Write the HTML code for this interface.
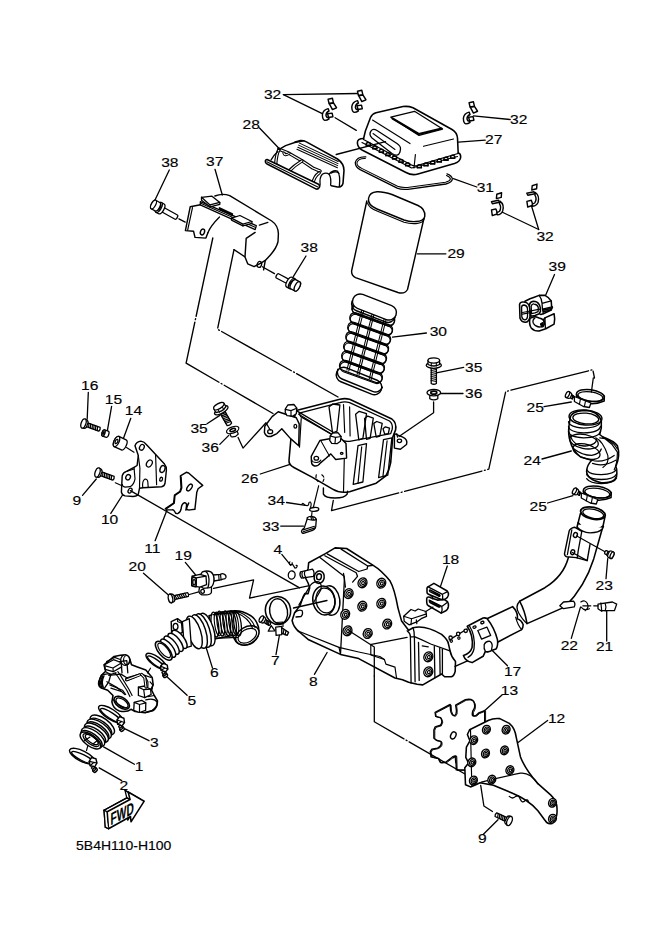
<!DOCTYPE html>
<html><head><meta charset="utf-8"><style>
html,body{margin:0;padding:0;background:#fff;}
svg{display:block;}
text{font-family:"Liberation Sans",sans-serif;fill:#000;stroke:#000;stroke-width:0.15px;}
</style></head><body>
<svg width="661" height="935" viewBox="0 0 661 935" stroke-linecap="round" stroke-linejoin="round">
<rect width="661" height="935" fill="#fff"/>
<text transform="translate(263.9,99.4) scale(1.2,1)" font-size="13">32</text>
<text transform="translate(510.1,123.8) scale(1.2,1)" font-size="13">32</text>
<text transform="translate(485.1,144.2) scale(1.2,1)" font-size="13">27</text>
<text transform="translate(242.5,128.7) scale(1.2,1)" font-size="13">28</text>
<text transform="translate(476.7,192.4) scale(1.2,1)" font-size="13">31</text>
<text transform="translate(536.4,241.2) scale(1.2,1)" font-size="13">32</text>
<text transform="translate(548.5,270.6) scale(1.2,1)" font-size="13">39</text>
<text transform="translate(161.2,167.4) scale(1.2,1)" font-size="13">38</text>
<text transform="translate(206.1,166.4) scale(1.2,1)" font-size="13">37</text>
<text transform="translate(447.4,258.4) scale(1.2,1)" font-size="13">29</text>
<text transform="translate(300.6,252.4) scale(1.2,1)" font-size="13">38</text>
<text transform="translate(429.7,335.7) scale(1.2,1)" font-size="13">30</text>
<text transform="translate(465.0,371.7) scale(1.2,1)" font-size="13">35</text>
<text transform="translate(465.0,398.0) scale(1.2,1)" font-size="13">36</text>
<text transform="translate(81.1,390.3) scale(1.2,1)" font-size="13">16</text>
<text transform="translate(104.8,404.2) scale(1.2,1)" font-size="13">15</text>
<text transform="translate(124.8,415.4) scale(1.2,1)" font-size="13">14</text>
<text transform="translate(190.4,432.8) scale(1.2,1)" font-size="13">35</text>
<text transform="translate(201.6,452.0) scale(1.2,1)" font-size="13">36</text>
<text transform="translate(526.6,411.7) scale(1.2,1)" font-size="13">25</text>
<text transform="translate(523.5,465.4) scale(1.2,1)" font-size="13">24</text>
<text transform="translate(241.0,483.4) scale(1.2,1)" font-size="13">26</text>
<text transform="translate(72.6,504.8) scale(1.2,1)" font-size="13">9</text>
<text transform="translate(267.6,504.6) scale(1.2,1)" font-size="13">34</text>
<text transform="translate(529.5,511.0) scale(1.2,1)" font-size="13">25</text>
<text transform="translate(100.9,523.7) scale(1.2,1)" font-size="13">10</text>
<text transform="translate(262.2,530.5) scale(1.2,1)" font-size="13">33</text>
<text transform="translate(144.2,553.1) scale(1.2,1)" font-size="13">11</text>
<text transform="translate(273.6,554.1) scale(1.2,1)" font-size="13">4</text>
<text transform="translate(441.9,563.5) scale(1.2,1)" font-size="13">18</text>
<text transform="translate(174.6,560.2) scale(1.2,1)" font-size="13">19</text>
<text transform="translate(128.5,570.5) scale(1.2,1)" font-size="13">20</text>
<text transform="translate(595.5,589.8) scale(1.2,1)" font-size="13">23</text>
<text transform="translate(560.7,649.9) scale(1.2,1)" font-size="13">22</text>
<text transform="translate(595.9,651.4) scale(1.2,1)" font-size="13">21</text>
<text transform="translate(270.9,664.6) scale(1.2,1)" font-size="13">7</text>
<text transform="translate(209.9,677.2) scale(1.2,1)" font-size="13">6</text>
<text transform="translate(503.9,675.7) scale(1.2,1)" font-size="13">17</text>
<text transform="translate(308.9,685.6) scale(1.2,1)" font-size="13">8</text>
<text transform="translate(500.8,695.4) scale(1.2,1)" font-size="13">13</text>
<text transform="translate(187.4,705.2) scale(1.2,1)" font-size="13">5</text>
<text transform="translate(547.9,723.0) scale(1.2,1)" font-size="13">12</text>
<text transform="translate(149.9,746.9) scale(1.2,1)" font-size="13">3</text>
<text transform="translate(134.8,771.2) scale(1.2,1)" font-size="13">1</text>
<text transform="translate(119.6,790.0) scale(1.2,1)" font-size="13">2</text>
<text transform="translate(477.9,843.1) scale(1.2,1)" font-size="13">9</text>
<text transform="translate(76.1,850.0) scale(1.165,1)" font-size="12">5B4H110-H100</text>
<path d="M363.6,138.5 L365.4,131 L370.5,117.5 Q372,114 376,112.8 L403,106.6 Q408,105.8 413,107.8 L452,129.5 Q457,132.5 457.5,138 L458.2,153" fill="none" stroke="#000" stroke-width="1.56" />
<path d="M363.6,138.5 Q357,138.5 357.4,143 Q357.6,147.5 362,150 L406,172.5 Q412,175.8 418,174 L454.5,163.5 Q460.5,161.5 460.7,157 Q460.8,153.5 458.2,153" fill="none" stroke="#000" stroke-width="1.56" />
<path d="M362,142.5 L411.6,168 L457.5,156.5" fill="none" stroke="#000" stroke-width="1.17" />
<path d="M366.2,145.5 L366.3,143.4 Q368.3,141.6 370.3,143.4 L370.4,145.5" fill="#fff" stroke="#000" stroke-width="1.43"/>
<path d="M366.7,145.3 L369.9,145.3" stroke="#000" stroke-width="1.82"/>
<path d="M372.8,148.9 L372.9,146.8 Q374.9,145.0 376.9,146.8 L377.0,148.9" fill="#fff" stroke="#000" stroke-width="1.43"/>
<path d="M373.3,148.7 L376.5,148.7" stroke="#000" stroke-width="1.82"/>
<path d="M379.3,152.3 L379.4,150.2 Q381.4,148.4 383.4,150.2 L383.5,152.3" fill="#fff" stroke="#000" stroke-width="1.43"/>
<path d="M379.8,152.1 L383.0,152.1" stroke="#000" stroke-width="1.82"/>
<path d="M385.9,155.7 L386.0,153.5 Q388.0,151.8 390.0,153.5 L390.1,155.7" fill="#fff" stroke="#000" stroke-width="1.43"/>
<path d="M386.4,155.4 L389.6,155.4" stroke="#000" stroke-width="1.82"/>
<path d="M392.5,159.0 L392.6,156.9 Q394.6,155.1 396.6,156.9 L396.7,159.0" fill="#fff" stroke="#000" stroke-width="1.43"/>
<path d="M393.0,158.8 L396.2,158.8" stroke="#000" stroke-width="1.82"/>
<path d="M399.0,162.4 L399.1,160.3 Q401.1,158.5 403.1,160.3 L403.2,162.4" fill="#fff" stroke="#000" stroke-width="1.43"/>
<path d="M399.5,162.2 L402.7,162.2" stroke="#000" stroke-width="1.82"/>
<path d="M405.6,165.8 L405.7,163.7 Q407.7,161.9 409.7,163.7 L409.8,165.8" fill="#fff" stroke="#000" stroke-width="1.43"/>
<path d="M406.1,165.6 L409.3,165.6" stroke="#000" stroke-width="1.82"/>
<path d="M417.2,167.8 L417.3,165.7 Q419.3,163.9 421.3,165.7 L421.4,167.8" fill="#fff" stroke="#000" stroke-width="1.43"/>
<path d="M417.7,167.6 L420.9,167.6" stroke="#000" stroke-width="1.82"/>
<path d="M423.9,165.9 L424.0,163.8 Q426.0,162.0 428.0,163.8 L428.1,165.9" fill="#fff" stroke="#000" stroke-width="1.43"/>
<path d="M424.4,165.7 L427.6,165.7" stroke="#000" stroke-width="1.82"/>
<path d="M430.6,164.0 L430.7,161.9 Q432.7,160.1 434.7,161.9 L434.8,164.0" fill="#fff" stroke="#000" stroke-width="1.43"/>
<path d="M431.1,163.8 L434.3,163.8" stroke="#000" stroke-width="1.82"/>
<path d="M437.2,162.1 L437.3,160.0 Q439.3,158.2 441.3,160.0 L441.4,162.1" fill="#fff" stroke="#000" stroke-width="1.43"/>
<path d="M437.7,161.9 L440.9,161.9" stroke="#000" stroke-width="1.82"/>
<path d="M443.9,160.2 L444.0,158.1 Q446.0,156.3 448.0,158.1 L448.1,160.2" fill="#fff" stroke="#000" stroke-width="1.43"/>
<path d="M444.4,160.0 L447.6,160.0" stroke="#000" stroke-width="1.82"/>
<path d="M450.6,158.3 L450.7,156.2 Q452.7,154.4 454.7,156.2 L454.8,158.3" fill="#fff" stroke="#000" stroke-width="1.43"/>
<path d="M451.1,158.1 L454.3,158.1" stroke="#000" stroke-width="1.82"/>
<path d="M363.5,139.5 L411.5,165 Q414,166.3 417,165.6 L458,153.5" fill="none" stroke="#000" stroke-width="1.30" />
<path d="M372.5,120 L410,143.6" fill="none" stroke="#000" stroke-width="1.17" />
<path d="M423.5,146.3 L453.5,139" fill="none" stroke="#000" stroke-width="1.17" />
<path d="M415.4,154.5 L414,168" fill="none" stroke="#000" stroke-width="1.17" />
<path d="M390.8,117.2 L414.5,111.3 L442.6,129 L419,135.4 Z" fill="none" stroke="#000" stroke-width="1.30" />
<path d="M392.5,118.5 L418.8,134 L441.5,128.6" fill="none" stroke="#000" stroke-width="2.08" />
<path d="M371,131 Q368.5,134.5 372,138 L392,153.5 Q398,157.5 400,152 L400.5,149 Q400.8,146 397,143.5 L377,130.5 Q373,128 371,131 Z" fill="none" stroke="#000" stroke-width="1.30" />
<path d="M373,133.5 L395,149.5" fill="none" stroke="#000" stroke-width="1.04" />
<path d="M365.8,156.9 Q356.9,156.4 355.3,162.4 Q355.3,167.0 360.1,169.6 L397.2,188.2 Q401.4,189.9 407.8,189.3 L445.9,184.0 Q452.3,182.3 452.3,178.7 Q451.8,175.5 447.0,173.8" fill="none" stroke="#000" stroke-width="1.30" />
<path d="M365.4,158.5 Q358.2,158.1 356.9,162.8 Q356.9,166.2 361.2,168.1 L397.6,186.3 Q401.4,187.8 407.4,187.4 L445.5,182.3 Q450.1,181.0 450.4,178.9 Q450.1,177.0 446.5,175.5" fill="none" stroke="#000" stroke-width="1.04" />
<path d="M366.8,201 L351.7,270.5 Q351,275 355.5,277.6 L398,292.5 Q404.5,294.5 407.5,289.5 L423.8,219" fill="none" stroke="#000" stroke-width="1.43" />
<path d="M368.5,198.5 Q369.5,192.3 377,191.8 Q383,191.5 392,194.5 L418,205.5 Q425.5,209 424.8,216.3 Q424,221 416,221.5 Q410,222 404,220 L377,209 Q367.5,205 368.5,198.5 Z" fill="none" stroke="#000" stroke-width="1.43" />
<path d="M367.5,202.8 Q368.5,207.5 377,211 L404,222.2 Q410,224 416,223.6 Q423.5,223 424.2,218.5" fill="none" stroke="#000" stroke-width="1.17" />
<line x1="283.4" y1="94.6" x2="358.1" y2="93.5" stroke="#000" stroke-width="1.30"/>
<line x1="283.4" y1="94.6" x2="321.8" y2="113.4" stroke="#000" stroke-width="1.30"/>
<line x1="473.4" y1="115.8" x2="510.2" y2="119.5" stroke="#000" stroke-width="1.30"/>
<line x1="458.4" y1="142.2" x2="485.2" y2="140.2" stroke="#000" stroke-width="1.30"/>
<line x1="453.4" y1="178.7" x2="476.8" y2="187" stroke="#000" stroke-width="1.30"/>
<line x1="501.9" y1="212" x2="538.7" y2="229.5" stroke="#000" stroke-width="1.30"/>
<line x1="530.3" y1="202" x2="538.7" y2="229.5" stroke="#000" stroke-width="1.30"/>
<line x1="259.5" y1="128" x2="278.4" y2="147.7" stroke="#000" stroke-width="1.30"/>
<line x1="169.3" y1="170" x2="155" y2="200" stroke="#000" stroke-width="1.30"/>
<line x1="215" y1="169.3" x2="222.3" y2="195" stroke="#000" stroke-width="1.30"/>
<line x1="306" y1="256" x2="293.3" y2="276.7" stroke="#000" stroke-width="1.30"/>
<line x1="417.3" y1="253.8" x2="445.9" y2="253.8" stroke="#000" stroke-width="1.30"/>
<line x1="392.5" y1="337.2" x2="426.4" y2="333" stroke="#000" stroke-width="1.30"/>
<line x1="436.4" y1="372.8" x2="463.7" y2="367.3" stroke="#000" stroke-width="1.30"/>
<line x1="440" y1="393.5" x2="463" y2="393.5" stroke="#000" stroke-width="1.30"/>
<line x1="88.3" y1="392.5" x2="87.2" y2="419" stroke="#000" stroke-width="1.30"/>
<line x1="111.6" y1="406.3" x2="107.2" y2="431.7" stroke="#000" stroke-width="1.30"/>
<line x1="130.8" y1="418.3" x2="123.5" y2="438.3" stroke="#000" stroke-width="1.30"/>
<line x1="207" y1="423.7" x2="219.8" y2="415.4" stroke="#000" stroke-width="1.30"/>
<line x1="219.8" y1="444.4" x2="228.8" y2="435.4" stroke="#000" stroke-width="1.30"/>
<line x1="544" y1="406.7" x2="571.3" y2="402" stroke="#000" stroke-width="1.30"/>
<line x1="542" y1="459" x2="571.3" y2="451" stroke="#000" stroke-width="1.30"/>
<line x1="260.3" y1="474" x2="290" y2="464.3" stroke="#000" stroke-width="1.30"/>
<line x1="82.5" y1="495.3" x2="96.3" y2="479" stroke="#000" stroke-width="1.30"/>
<line x1="286.5" y1="502.5" x2="305.4" y2="505.4" stroke="#000" stroke-width="1.30"/>
<line x1="547.6" y1="503" x2="573" y2="495.6" stroke="#000" stroke-width="1.30"/>
<line x1="110.8" y1="513.4" x2="123.5" y2="493.5" stroke="#000" stroke-width="1.30"/>
<line x1="280.7" y1="526.1" x2="303.5" y2="526.1" stroke="#000" stroke-width="1.30"/>
<line x1="155.1" y1="540.7" x2="167.1" y2="509.8" stroke="#000" stroke-width="1.30"/>
<line x1="281.8" y1="554.4" x2="290.8" y2="565.3" stroke="#000" stroke-width="1.30"/>
<line x1="447.3" y1="566" x2="440" y2="587.9" stroke="#000" stroke-width="1.30"/>
<line x1="185.3" y1="562.4" x2="197.3" y2="577" stroke="#000" stroke-width="1.30"/>
<line x1="143.5" y1="573.3" x2="170.7" y2="597" stroke="#000" stroke-width="1.30"/>
<line x1="606" y1="578.7" x2="607.7" y2="558.7" stroke="#000" stroke-width="1.30"/>
<line x1="571.3" y1="638.4" x2="580.4" y2="607.4" stroke="#000" stroke-width="1.30"/>
<line x1="606.7" y1="641" x2="606.7" y2="609.2" stroke="#000" stroke-width="1.30"/>
<line x1="507.5" y1="665.7" x2="489.3" y2="647.5" stroke="#000" stroke-width="1.30"/>
<line x1="502" y1="694.9" x2="482" y2="713.1" stroke="#000" stroke-width="1.30"/>
<line x1="547.6" y1="720.4" x2="518.4" y2="742.3" stroke="#000" stroke-width="1.30"/>
<line x1="212.5" y1="668.1" x2="205.2" y2="644.5" stroke="#000" stroke-width="1.30"/>
<line x1="276" y1="654.6" x2="279.7" y2="633.6" stroke="#000" stroke-width="1.30"/>
<line x1="187.1" y1="695.3" x2="165.3" y2="675.3" stroke="#000" stroke-width="1.30"/>
<line x1="149" y1="740.7" x2="124.6" y2="728.7" stroke="#000" stroke-width="1.30"/>
<line x1="134.4" y1="764.3" x2="103.6" y2="746.9" stroke="#000" stroke-width="1.30"/>
<line x1="121.7" y1="780.6" x2="99.2" y2="767.9" stroke="#000" stroke-width="1.30"/>
<line x1="314.4" y1="674.3" x2="327.1" y2="652.5" stroke="#000" stroke-width="1.30"/>
<line x1="483.4" y1="834.3" x2="498" y2="819.8" stroke="#000" stroke-width="1.30"/>
<line x1="554.5" y1="274.5" x2="545.5" y2="295.5" stroke="#000" stroke-width="1.30"/>
<path d="M269.4,161.3 Q273.2,152.2 279.2,149.2 L286.8,145.9 L295.1,141.9 L300.4,140.6 Q303.4,140.4 306.4,141.9 L337.5,159.0 Q344.0,163.6 344.0,170.4 L343.0,183.2 Q342.0,187.3 337.5,187.0 L318.5,187.0 L269.4,162.8 Z" fill="#fff" stroke="none"/>
<path d="M299.5,143.1 L338.2,161.5" fill="none" stroke="#000" stroke-width="1.04" />
<path d="M298.6,145.1 L338.0,163.6" fill="none" stroke="#000" stroke-width="1.04" />
<path d="M297.8,147.2 L337.7,165.6" fill="none" stroke="#000" stroke-width="1.04" />
<path d="M296.9,149.2 L337.4,167.7" fill="none" stroke="#000" stroke-width="1.04" />
<path d="M295.1,141.9 L300.4,140.6 Q303.4,140.4 306.4,141.9 L337.5,159.0 Q344.0,163.6 344.0,170.4 L343.0,183.2 Q342.0,187.3 337.5,187.0 L331.4,185.8" fill="none" stroke="#000" stroke-width="1.56" />
<path d="M279.2,149.3 L289.2,153.4 L301.9,160.7 L312.8,168.0 L320.1,171.1" fill="none" stroke="#000" stroke-width="3.38" stroke-linecap="round" stroke-linejoin="round"/>
<path d="M279.2,149.3 L289.2,153.4 L301.9,160.7 L312.8,168.0 L320.1,171.1" fill="none" stroke="#fff" stroke-width="1.17" stroke-linecap="round" stroke-linejoin="round"/>
<path d="M275.6,164.5 L288.3,171.8 L312.8,183.8" fill="none" stroke="#000" stroke-width="3.38" stroke-linecap="round" stroke-linejoin="round"/>
<path d="M275.6,164.5 L288.3,171.8 L312.8,183.8" fill="none" stroke="#fff" stroke-width="1.17" stroke-linecap="round" stroke-linejoin="round"/>
<path d="M279.2,149.3 Q276.5,153.4 275.6,164.5" fill="none" stroke="#000" stroke-width="3.38" stroke-linecap="round" stroke-linejoin="round"/>
<path d="M279.2,149.3 Q276.5,153.4 275.6,164.5" fill="none" stroke="#fff" stroke-width="1.17" stroke-linecap="round" stroke-linejoin="round"/>
<path d="M301.9,160.9 Q294.7,165.2 288.3,171.8" fill="none" stroke="#000" stroke-width="3.38" stroke-linecap="round" stroke-linejoin="round"/>
<path d="M301.9,160.9 Q294.7,165.2 288.3,171.8" fill="none" stroke="#fff" stroke-width="1.17" stroke-linecap="round" stroke-linejoin="round"/>
<path d="M289.2,153.4 Q284.7,156.2 283.8,153.0" fill="none" stroke="#000" stroke-width="2.86" stroke-linecap="round" stroke-linejoin="round"/>
<path d="M289.2,153.4 Q284.7,156.2 283.8,153.0" fill="none" stroke="#fff" stroke-width="1.04" stroke-linecap="round" stroke-linejoin="round"/>
<path d="M319.2,172.9 Q314.2,176.1 312.8,183.8" fill="none" stroke="#000" stroke-width="3.38" stroke-linecap="round" stroke-linejoin="round"/>
<path d="M319.2,172.9 Q314.2,176.1 312.8,183.8" fill="none" stroke="#fff" stroke-width="1.17" stroke-linecap="round" stroke-linejoin="round"/>
<path d="M279.2,149.3 L285.6,145.7 L294.7,142.5 L303.8,140.7" fill="none" stroke="#000" stroke-width="1.43" />
<path d="M277.9,148.2 Q278.3,149.8 279.2,149.3 M271.1,159.8 Q273.8,155.2 277.9,151.6" fill="none" stroke="#000" stroke-width="1.30" />
<path d="M320.1,184.8 Q319.3,177.2 322.3,174.2 Q326.1,171.9 329.1,174.2 Q331.4,178.0 330.6,185.2" fill="none" stroke="#000" stroke-width="1.30" />
<path d="M329.1,174.2 Q332.9,169.6 337.5,171.1 Q340.5,174.9 339.4,185.8" fill="none" stroke="#000" stroke-width="1.30" />
<path d="M331.4,173.1 Q335.9,170.4 339.0,173.4" fill="none" stroke="#000" stroke-width="1.17" />
<path d="M267.1,159.5 L318.5,184.3 Q320.4,185.5 319.3,187.3 Q318.2,189.4 316.3,189.1 L267.1,164.0 Q265.0,162.8 265.3,161.0 Q265.9,159.2 267.1,159.5 Z" fill="#fff" stroke="#000" stroke-width="1.56" />
<path d="M266.8,161.8 L317.8,187.0" fill="none" stroke="#000" stroke-width="1.04" />
<g transform="translate(328,99) scale(1.0,1.0)" fill="#fff" stroke="#000" stroke-width="1.43" stroke-linejoin="round"><path d="M0.1,0.3 L4.45,-0.7 L5.4,3.7 L1.05,4.5 Z"/><path d="M1.4,4.8 L5.65,4.15 L8.55,8.75 L4.45,10.6 Z"/><path d="M0.1,9.6 Q-5,10.8 -5.6,15.7 Q-5.6,20.5 -3.2,21.35 Q-0.75,21.35 1.05,19.9 L0.45,18.45 Q-1.6,18.9 -2,16.3 Q-2,13.25 1.05,12 Z"/><path d="M-0.4,14.8 L4.1,14.1 L4.9,17.7 L0.6,18.45 Z"/></g>
<g transform="translate(357.4,91) scale(1.0,1.0)" fill="#fff" stroke="#000" stroke-width="1.43" stroke-linejoin="round"><path d="M0.1,0.3 L4.45,-0.7 L5.4,3.7 L1.05,4.5 Z"/><path d="M1.4,4.8 L5.65,4.15 L8.55,8.75 L4.45,10.6 Z"/><path d="M0.1,9.6 Q-5,10.8 -5.6,15.7 Q-5.6,20.5 -3.2,21.35 Q-0.75,21.35 1.05,19.9 L0.45,18.45 Q-1.6,18.9 -2,16.3 Q-2,13.25 1.05,12 Z"/><path d="M-0.4,14.8 L4.1,14.1 L4.9,17.7 L0.6,18.45 Z"/></g>
<g transform="translate(469,102.5) scale(1.0,1.0)" fill="#fff" stroke="#000" stroke-width="1.43" stroke-linejoin="round"><path d="M0.1,0.3 L4.45,-0.7 L5.4,3.7 L1.05,4.5 Z"/><path d="M1.4,4.8 L5.65,4.15 L8.55,8.75 L4.45,10.6 Z"/><path d="M0.1,9.6 Q-5,10.8 -5.6,15.7 Q-5.6,20.5 -3.2,21.35 Q-0.75,21.35 1.05,19.9 L0.45,18.45 Q-1.6,18.9 -2,16.3 Q-2,13.25 1.05,12 Z"/><path d="M-0.4,14.8 L4.1,14.1 L4.9,17.7 L0.6,18.45 Z"/></g>
<g fill="#fff" stroke="#000" stroke-width="1.43" stroke-linejoin="round">
<path d="M496.8,194.3 L501.6,192.7 L501.2,197.4 L496.4,198.6 Z"/>
<path d="M491.5,210.0 L495.9,208.9 L497.7,213.8 L492.3,215.6 Z"/>
<path d="M500.0,201.1 Q504.5,204.5 502.7,210.9 Q501.3,214.5 497.3,214.9 L496.8,212.7 Q498.6,212.0 499.5,211.3 Q501.8,207.2 499.5,203.8 Z"/>
<path d="M491.4,201.8 L498.6,200.3 L499.5,202.3 L492.4,203.8 Z"/>
</g>
<g fill="#fff" stroke="#000" stroke-width="1.43" stroke-linejoin="round">
<path d="M532.2,185.7 L537.0,184.1 L536.6,188.8 L531.8,190.0 Z"/>
<path d="M526.9,201.4 L531.3,200.3 L533.1,205.2 L527.7,207.0 Z"/>
<path d="M535.4,192.5 Q539.9,195.9 538.1,202.3 Q536.7,205.9 532.7,206.3 L532.2,204.1 Q534.0,203.4 534.9,202.7 Q537.2,198.6 534.9,195.2 Z"/>
<path d="M526.8,193.2 L534.0,191.7 L534.9,193.7 L527.8,195.2 Z"/>
</g>
<line x1="336.2" y1="154.5" x2="385.5" y2="141.7" stroke="#000" stroke-width="1.30"/>
<line x1="335.1" y1="117.7" x2="356.3" y2="130.4" stroke="#000" stroke-width="1.30"/>
<g transform="translate(297.3,286.4) rotate(208)" fill="#fff" stroke="#000" stroke-width="1.30" stroke-linejoin="round"><path d="M9,-2.4 L22.5,-2.4 A1.08,2.4 0 0 1 22.5,2.4 L9,2.4 A1.08,2.4 0 0 1 9,-2.4 Z"/><ellipse cx="9" cy="0" rx="1.08" ry="2.4"/><path d="M6,-5.6 L9,-5.6 A2.52,5.6 0 0 1 9,5.6 L6,5.6 A2.52,5.6 0 0 1 6,-5.6 Z"/><ellipse cx="6" cy="0" rx="2.52" ry="5.6"/><path d="M4.5,-3.2 L6,-3.2 A1.44,3.2 0 0 1 6,3.2 L4.5,3.2 A1.44,3.2 0 0 1 4.5,-3.2 Z"/><ellipse cx="4.5" cy="0" rx="1.44" ry="3.2"/><path d="M0,-5.2 L4.5,-5.2 A2.34,5.2 0 0 1 4.5,5.2 L0,5.2 A2.34,5.2 0 0 1 0,-5.2 Z"/><ellipse cx="0" cy="0" rx="2.34" ry="5.2"/></g>
<line x1="262.3" y1="266.8" x2="274.5" y2="273.6" stroke="#000" stroke-width="1.30"/>
<g transform="translate(153.5,204.5) rotate(29)" fill="#fff" stroke="#000" stroke-width="1.30" stroke-linejoin="round"><path d="M9,-2.4 L26,-2.4 A1.08,2.4 0 0 1 26,2.4 L9,2.4 A1.08,2.4 0 0 1 9,-2.4 Z"/><ellipse cx="9" cy="0" rx="1.08" ry="2.4"/><path d="M6,-5.6 L9,-5.6 A2.52,5.6 0 0 1 9,5.6 L6,5.6 A2.52,5.6 0 0 1 6,-5.6 Z"/><ellipse cx="6" cy="0" rx="2.52" ry="5.6"/><path d="M4.5,-3.2 L6,-3.2 A1.44,3.2 0 0 1 6,3.2 L4.5,3.2 A1.44,3.2 0 0 1 4.5,-3.2 Z"/><ellipse cx="4.5" cy="0" rx="1.44" ry="3.2"/><path d="M0,-4.8 L4.5,-4.8 A2.16,4.8 0 0 1 4.5,4.8 L0,4.8 A2.16,4.8 0 0 1 0,-4.8 Z"/><ellipse cx="0" cy="0" rx="2.16" ry="4.8"/></g>
<line x1="178.9" y1="218.9" x2="185.2" y2="222.1" stroke="#000" stroke-width="1.30"/>
<path d="M214.9,196.0 Q222.3,193.0 229.7,195.6 L271.7,221.0 Q278.0,225.2 278.4,233.7 L278.0,241.8 Q276.3,248.5 270.4,254.9 L265.3,260.4 L263.6,269.9" fill="none" stroke="#000" stroke-width="1.43" />
<path d="M200.4,201.6 L256.3,225.6 L255.2,229.7 L200.2,204.9 Z" fill="#fff" stroke="#000" stroke-width="1.30" />
<path d="M200.7,203.2 L255.7,227.5" fill="none" stroke="#000" stroke-width="1.04" />
<path d="M219.5,207.9 L232.4,213.9 M219.8,209.2 L232.2,215.2" fill="none" stroke="#000" stroke-width="1.69" />
<path d="M201.5,197.3 L212.0,196.2 L219.8,202.4 L219.8,204.3 L210.0,206.8 L201.5,200.3 Z" fill="#fff" stroke="#000" stroke-width="1.30" />
<path d="M201.5,197.3 L210.0,204.9 L219.8,202.4 M210.0,204.9 L210.0,206.8" fill="none" stroke="#000" stroke-width="1.30" />
<path d="M231.5,218.2 L239.9,215.5 L251.9,221.5 L251.9,223.4 L242.9,225.8 L231.5,220.1 Z" fill="#fff" stroke="#000" stroke-width="1.30" />
<path d="M231.5,218.2 L242.9,224.2 L251.9,221.5 M242.9,224.2 L242.9,225.8" fill="none" stroke="#000" stroke-width="1.30" />
<path d="M200.4,204.7 L190.2,206.8 L185.4,230.6 L193.6,231.3 L195.0,237.4 L205.9,238.1 L207.9,232.7" fill="none" stroke="#000" stroke-width="1.43" />
<path d="M192.5,207.6 L187.6,230.3" fill="none" stroke="#000" stroke-width="1.17" />
<path d="M207.9,232.7 Q210.6,225.8 219.5,217.0" fill="none" stroke="#000" stroke-width="1.30" />
<ellipse cx="202.46732026143792" cy="231.97712418300654" rx="2.0" ry="3.0" transform="rotate(20 202.46732026143792 231.97712418300654)" fill="none" stroke="#000" stroke-width="1.43"/>
<path d="M255.1,232.4 L246.2,238.4 L245.0,257.0 L247.7,263.8 L254.1,266.6 L260.4,263.4 L265.3,260.4" fill="none" stroke="#000" stroke-width="1.43" />
<ellipse cx="259.3825460707477" cy="264.4323236602415" rx="2.2" ry="3.0" transform="rotate(20 259.3825460707477 264.4323236602415)" fill="none" stroke="#000" stroke-width="1.30"/>
<path d="M234.0,249.6 L244.6,256.6" fill="none" stroke="#000" stroke-width="1.30" />
<path d="M259.4,225.2 L267.9,222.3" fill="none" stroke="#000" stroke-width="1.30" />
<path d="M212.8,238 L186.1,363.2 L273,413.5" fill="none" stroke="#000" stroke-width="1.37" stroke-linejoin="round" stroke-dasharray="80 2.5 1 2.5"/>
<path d="M234,249.6 L217.5,329.2 L338,397" fill="none" stroke="#000" stroke-width="1.37" stroke-linejoin="round" stroke-dasharray="80 2.5 1 2.5"/>
<path d="M-16.5,-7.5 L16.5,-7.5 A7.5,7.5 0 0 1 16.5,7.5 L-16.5,7.5 A7.5,7.5 0 0 1 -16.5,-7.5 Z" transform="translate(359.0,381.0) rotate(22)" fill="#fff" stroke="#000" stroke-width="1.43" />
<path d="M-24,-3 A7.5,7.5 0 0 0 -16.5,4.5 L16.5,4.5 A7.5,7.5 0 0 0 24,-3" transform="translate(359.0,381.0) rotate(22)" fill="none" stroke="#000" stroke-width="1.43"/>
<line x1="362.4" y1="307.6" x2="346.9" y2="370.1" stroke="#000" stroke-width="1.04"/>
<line x1="364.3" y1="308.4" x2="348.8" y2="370.9" stroke="#000" stroke-width="1.04"/>
<line x1="372.6" y1="311.8" x2="357.1" y2="374.3" stroke="#000" stroke-width="1.04"/>
<line x1="374.5" y1="312.5" x2="359.0" y2="375.0" stroke="#000" stroke-width="1.04"/>
<line x1="384.7" y1="316.6" x2="369.2" y2="379.1" stroke="#000" stroke-width="1.04"/>
<line x1="386.6" y1="317.4" x2="371.1" y2="379.9" stroke="#000" stroke-width="1.04"/>
<path d="M-17.3,-5.2 L17.3,-5.2 A5.2,5.2 0 0 1 17.3,5.2 L-17.3,5.2 A5.2,5.2 0 0 1 -17.3,-5.2 Z" transform="translate(373.3,314.2) rotate(20)" fill="none" stroke="#000" stroke-width="1.30" />
<path d="M-17.0,-5.0 L17.0,-5.0 A5.0,5.0 0 0 1 17.0,5.0 L-17.0,5.0 A5.0,5.0 0 0 1 -17.0,-5.0 Z" transform="translate(373.3,315.5) rotate(20)" fill="none" stroke="#000" stroke-width="1.04" />
<path d="M-17.3,-5.2 L17.3,-5.2 A5.2,5.2 0 0 1 17.3,5.2 L-17.3,5.2 A5.2,5.2 0 0 1 -17.3,-5.2 Z" transform="translate(371.2,323.8) rotate(20)" fill="none" stroke="#000" stroke-width="1.30" />
<path d="M-17.0,-5.0 L17.0,-5.0 A5.0,5.0 0 0 1 17.0,5.0 L-17.0,5.0 A5.0,5.0 0 0 1 -17.0,-5.0 Z" transform="translate(371.2,325.1) rotate(20)" fill="none" stroke="#000" stroke-width="1.04" />
<path d="M-17.3,-5.2 L17.3,-5.2 A5.2,5.2 0 0 1 17.3,5.2 L-17.3,5.2 A5.2,5.2 0 0 1 -17.3,-5.2 Z" transform="translate(369.2,333.3) rotate(20)" fill="none" stroke="#000" stroke-width="1.30" />
<path d="M-17.0,-5.0 L17.0,-5.0 A5.0,5.0 0 0 1 17.0,5.0 L-17.0,5.0 A5.0,5.0 0 0 1 -17.0,-5.0 Z" transform="translate(369.2,334.6) rotate(20)" fill="none" stroke="#000" stroke-width="1.04" />
<path d="M-17.3,-5.2 L17.3,-5.2 A5.2,5.2 0 0 1 17.3,5.2 L-17.3,5.2 A5.2,5.2 0 0 1 -17.3,-5.2 Z" transform="translate(367.2,342.8) rotate(20)" fill="none" stroke="#000" stroke-width="1.30" />
<path d="M-17.0,-5.0 L17.0,-5.0 A5.0,5.0 0 0 1 17.0,5.0 L-17.0,5.0 A5.0,5.0 0 0 1 -17.0,-5.0 Z" transform="translate(367.2,344.1) rotate(20)" fill="none" stroke="#000" stroke-width="1.04" />
<path d="M-17.3,-5.2 L17.3,-5.2 A5.2,5.2 0 0 1 17.3,5.2 L-17.3,5.2 A5.2,5.2 0 0 1 -17.3,-5.2 Z" transform="translate(365.1,352.4) rotate(20)" fill="none" stroke="#000" stroke-width="1.30" />
<path d="M-17.0,-5.0 L17.0,-5.0 A5.0,5.0 0 0 1 17.0,5.0 L-17.0,5.0 A5.0,5.0 0 0 1 -17.0,-5.0 Z" transform="translate(365.1,353.7) rotate(20)" fill="none" stroke="#000" stroke-width="1.04" />
<path d="M-17.3,-5.2 L17.3,-5.2 A5.2,5.2 0 0 1 17.3,5.2 L-17.3,5.2 A5.2,5.2 0 0 1 -17.3,-5.2 Z" transform="translate(363.1,361.9) rotate(20)" fill="none" stroke="#000" stroke-width="1.30" />
<path d="M-17.0,-5.0 L17.0,-5.0 A5.0,5.0 0 0 1 17.0,5.0 L-17.0,5.0 A5.0,5.0 0 0 1 -17.0,-5.0 Z" transform="translate(363.1,363.2) rotate(20)" fill="none" stroke="#000" stroke-width="1.04" />
<path d="M-17.3,-5.2 L17.3,-5.2 A5.2,5.2 0 0 1 17.3,5.2 L-17.3,5.2 A5.2,5.2 0 0 1 -17.3,-5.2 Z" transform="translate(361.0,371.5) rotate(20)" fill="none" stroke="#000" stroke-width="1.30" />
<path d="M-17.0,-5.0 L17.0,-5.0 A5.0,5.0 0 0 1 17.0,5.0 L-17.0,5.0 A5.0,5.0 0 0 1 -17.0,-5.0 Z" transform="translate(361.0,372.8) rotate(20)" fill="none" stroke="#000" stroke-width="1.04" />
<path d="M-15.5,-7.5 L15.5,-7.5 A7.5,7.5 0 0 1 15.5,7.5 L-15.5,7.5 A7.5,7.5 0 0 1 -15.5,-7.5 Z" transform="translate(374.5,307.0) rotate(21)" fill="#fff" stroke="#000" stroke-width="1.43" />
<path d="M-23,2.5 A7.5,7.5 0 0 0 -15.5,10.0 L15.5,10.0 A7.5,7.5 0 0 0 23,2.5" transform="translate(374.5,307.0) rotate(21)" fill="none" stroke="#000" stroke-width="1.43"/>
<path d="M296.3,410.6 L339.9,399.2 Q344.7,398.0 349.6,399.2 L391.9,419.0 Q396.8,422.7 395.6,429.9 L392.7,437.2 L390.7,462.6 Q389.5,469.9 385.9,475.9 L376.2,483.2 L349.6,491.7 Q339.9,493.6 332.6,489.2 L312.0,477.1 L293.9,467.5 Q288.6,464.6 289.0,460.2 L292.0,426.3 Z" fill="#fff" stroke="#000" stroke-width="1.56" />
<path d="M323.4,488.0 L323.4,494.1 Q325.4,498.0 335.0,498.0 Q344.7,498.0 347.1,494.1 L347.6,491.2" fill="none" stroke="#000" stroke-width="1.43" />
<path d="M299.2,413.2 L339.9,402.6 Q344.7,401.1 349.6,402.6 L389.5,421.0 Q393.1,423.9 392.2,429.2 L390.7,433.6 L349.6,441.3 Q344.7,442.0 341.1,439.6 L300.7,416.6 Z" fill="none" stroke="#000" stroke-width="1.30" />
<path d="M296.3,410.6 L337.5,434.8" fill="none" stroke="#000" stroke-width="1.30" />
<path d="M298.7,414.2 L336.3,437.2" fill="none" stroke="#000" stroke-width="1.17" />
<path d="M329.0,406.9 L332.6,404.0 L339.9,405.0 L337.0,431.2 L332.6,433.1 Z" fill="none" stroke="#000" stroke-width="1.30" />
<path d="M355.6,414.2 L359.2,411.3 L366.5,413.7 L362.9,438.4 L358.8,439.9 Z" fill="none" stroke="#000" stroke-width="1.30" />
<path d="M364.6,418.6 L367.7,416.1 L373.3,418.1 L370.1,438.4 L366.5,439.4 Z" fill="none" stroke="#000" stroke-width="1.30" />
<path d="M373.8,423.4 L376.7,421.5 L382.2,423.4 L379.8,436.0 L376.2,437.0 Z" fill="none" stroke="#000" stroke-width="1.30" />
<path d="M383.0,428.7 L385.4,426.8 L389.5,428.2 L388.3,433.6 L384.7,434.1 Z" fill="none" stroke="#000" stroke-width="1.30" />
<path d="M343.5,404.5 L344.7,432.4" fill="none" stroke="#000" stroke-width="1.17" />
<path d="M349.6,406.9 L350.1,436.0" fill="none" stroke="#000" stroke-width="1.17" />
<path d="M301.2,418.6 L299.5,447.1" fill="none" stroke="#000" stroke-width="1.17" />
<path d="M344.7,442.0 L343.5,491.7" fill="none" stroke="#000" stroke-width="1.17" />
<path d="M358.0,445.7 L366.5,443.7 L362.9,482.0 L353.2,484.4 Z" fill="none" stroke="#000" stroke-width="1.30" />
<path d="M361.7,446.9 L358.0,483.2" fill="none" stroke="#000" stroke-width="1.17" />
<path d="M383.5,439.6 L391.9,437.9 L387.8,475.2 L378.6,477.6 Z" fill="none" stroke="#000" stroke-width="1.30" />
<path d="M387.1,440.8 L383.0,475.9" fill="none" stroke="#000" stroke-width="1.17" />
<path d="M319.9,440.5 L329.6,438.7 L340.5,438.1 L346,443.6 L346.6,458.1 L335.7,459.5 L330.8,453.9 L326,458.3 L320.5,462.9 Q318,466.5 314.5,466 Q311.5,465 311.5,462 L311.2,456.3 Z" fill="#fff" stroke="#000" stroke-width="1.43" />
<ellipse cx="316.3" cy="458.2" rx="2.3" ry="1.9" transform="rotate(0 316.3 458.2)" fill="none" stroke="#000" stroke-width="1.30"/>
<path d="M311.5,459.5 Q312,462.5 316.5,462.5 Q320,462 320.8,460" fill="none" stroke="#000" stroke-width="1.17" />
<ellipse cx="341.7" cy="453.3" rx="1.3" ry="1.0" transform="rotate(0 341.7 453.3)" fill="none" stroke="#000" stroke-width="1.30"/>
<path d="M321,441 L326,450 L329.5,456" fill="none" stroke="#000" stroke-width="1.04" />
<path d="M330.2,436.0 L332.6,433.1 L337.9,432.6 L341.1,436.5 L340.4,441.3 L337.0,443.7 L331.7,443.3 L329.7,440.4 Z" fill="#fff" stroke="#000" stroke-width="1.30" />
<path d="M330.2,436.0 L335.5,437.4 L341.1,436.5 M335.5,437.4 L335.0,443.3" fill="none" stroke="#000" stroke-width="1.17" />
<path d="M296.3,417.8 L278.2,411.8 L272.1,416.6 L264.8,426.3 L264.4,432.4 Q266.1,437.2 270.9,436.5 L276.9,433.6 L281.8,428.7 L290.3,438.4 L298.7,445.7 L299.2,423.9 Z" fill="#fff" stroke="#000" stroke-width="1.43" />
<ellipse cx="270.1670297748729" cy="431.63640764947957" rx="2.5" ry="2.0" transform="rotate(0 270.1670297748729 431.63640764947957)" fill="none" stroke="#000" stroke-width="1.30"/>
<ellipse cx="295.3425320745582" cy="426.3108206245461" rx="1.4" ry="1.9" transform="rotate(0 295.3425320745582 426.3108206245461)" fill="none" stroke="#000" stroke-width="1.30"/>
<path d="M285.4,408.9 L287.8,405.0 L293.9,404.5 L296.8,408.2 L296.3,413.7 L292.9,416.1 L287.1,415.7 L285.2,412.3 Z" fill="#fff" stroke="#000" stroke-width="1.30" />
<path d="M285.2,409.4 L291.0,410.6 L296.8,408.2 M291.0,410.6 L291.0,415.7" fill="none" stroke="#000" stroke-width="1.17" />
<path d="M394.4,433.6 L402.8,437.2 Q408.1,439.6 406.5,444.5 L400.4,449.3 L394.4,448.1 Z" fill="#fff" stroke="#000" stroke-width="1.43" />
<ellipse cx="399.4335511982571" cy="440.83514887436456" rx="2.2" ry="1.8" transform="rotate(0 399.4335511982571 440.83514887436456)" fill="none" stroke="#000" stroke-width="1.30"/>
<path d="M396.8,433.6 L397.5,437.2" fill="none" stroke="#000" stroke-width="1.17" />
<g transform="translate(433.8,361.5) rotate(0) scale(1.0)" fill="#fff" stroke="#000" stroke-width="1.30" stroke-linejoin="round"><path d="M-2.6,4 L-2.6,22 Q0,23.5 2.6,22 L2.6,4 Z"/><path d="M-2.6,7.0 L2.6,8.0" stroke-width="1.17"/><path d="M-2.6,9.0 L2.6,10.0" stroke-width="1.17"/><path d="M-2.6,11.0 L2.6,12.0" stroke-width="1.17"/><path d="M-2.6,13.0 L2.6,14.0" stroke-width="1.17"/><path d="M-2.6,15.0 L2.6,16.0" stroke-width="1.17"/><path d="M-2.6,17.0 L2.6,18.0" stroke-width="1.17"/><path d="M-2.6,19.0 L2.6,20.0" stroke-width="1.17"/><ellipse cx="0" cy="3.8" rx="7.6" ry="3"/><path d="M-5.8,-1 L-5.8,3 Q0,6 5.8,3 L5.8,-1 Z"/><path d="M-2.5,1.5 L-2.5,4.6 M2.5,1.5 L2.5,4.6" stroke-width="1.04"/><ellipse cx="0" cy="-1" rx="5.8" ry="2.6"/></g>
<g transform="translate(433.8,392.7) rotate(0) scale(1.0)" fill="#fff" stroke="#000" stroke-width="1.30"><path d="M-4,1 L-4,6 Q0,8.5 4,6 L4,1 Z"/><ellipse cx="0" cy="0" rx="6.8" ry="3.2"/><ellipse cx="0" cy="0" rx="3" ry="1.5" stroke-width="1.69"/></g>
<path d="M433.6,402 L433.6,412.7 L399,436.5" fill="none" stroke="#000" stroke-width="1.30" stroke-linejoin="round"/>
<g transform="translate(219.4,407) rotate(-30) scale(1.0)" fill="#fff" stroke="#000" stroke-width="1.30" stroke-linejoin="round"><path d="M-2.6,4 L-2.6,20 Q0,21.5 2.6,20 L2.6,4 Z"/><path d="M-2.6,7.0 L2.6,8.0" stroke-width="1.17"/><path d="M-2.6,8.7 L2.6,9.7" stroke-width="1.17"/><path d="M-2.6,10.4 L2.6,11.4" stroke-width="1.17"/><path d="M-2.6,12.1 L2.6,13.1" stroke-width="1.17"/><path d="M-2.6,13.9 L2.6,14.9" stroke-width="1.17"/><path d="M-2.6,15.6 L2.6,16.6" stroke-width="1.17"/><path d="M-2.6,17.3 L2.6,18.3" stroke-width="1.17"/><ellipse cx="0" cy="3.8" rx="7.6" ry="3"/><path d="M-5.8,-1 L-5.8,3 Q0,6 5.8,3 L5.8,-1 Z"/><path d="M-2.5,1.5 L-2.5,4.6 M2.5,1.5 L2.5,4.6" stroke-width="1.04"/><ellipse cx="0" cy="-1" rx="5.8" ry="2.6"/></g>
<g transform="translate(232.7,430) rotate(-20) scale(0.95)" fill="#fff" stroke="#000" stroke-width="1.30"><path d="M-4,1 L-4,6 Q0,8.5 4,6 L4,1 Z"/><ellipse cx="0" cy="0" rx="6.8" ry="3.2"/><ellipse cx="0" cy="0" rx="3" ry="1.5" stroke-width="1.69"/></g>
<path d="M238.1,437.5 L243,448.1 L266,422.7 L270.2,430" fill="none" stroke="#000" stroke-width="1.30" stroke-linejoin="round"/>
<g transform="translate(83.5,423.5) rotate(20)" fill="#fff" stroke="#000" stroke-width="1.30" stroke-linejoin="round"><path d="M3,-2.0 L17,-2.0 Q18.2,0 17,2.0 L3,2.0 Z"/><path d="M5.0,-2.0 L6.2,2.0" stroke-width="1.17"/><path d="M6.8,-2.0 L8.0,2.0" stroke-width="1.17"/><path d="M8.7,-2.0 L9.9,2.0" stroke-width="1.17"/><path d="M10.5,-2.0 L11.7,2.0" stroke-width="1.17"/><path d="M12.3,-2.0 L13.5,2.0" stroke-width="1.17"/><path d="M14.2,-2.0 L15.4,2.0" stroke-width="1.17"/><path d="M0,-4.8 Q3.5,-4.8 4,-2.4 L4,2.4 Q3.5,4.8 0,4.8 Z"/><ellipse cx="0" cy="0" rx="2.4" ry="4.8"/></g>
<g transform="translate(97.5,472.5) rotate(20)" fill="#fff" stroke="#000" stroke-width="1.30" stroke-linejoin="round"><path d="M3,-2.0 L17,-2.0 Q18.2,0 17,2.0 L3,2.0 Z"/><path d="M5.0,-2.0 L6.2,2.0" stroke-width="1.17"/><path d="M6.8,-2.0 L8.0,2.0" stroke-width="1.17"/><path d="M8.7,-2.0 L9.9,2.0" stroke-width="1.17"/><path d="M10.5,-2.0 L11.7,2.0" stroke-width="1.17"/><path d="M12.3,-2.0 L13.5,2.0" stroke-width="1.17"/><path d="M14.2,-2.0 L15.4,2.0" stroke-width="1.17"/><path d="M0,-4.8 Q3.5,-4.8 4,-2.4 L4,2.4 Q3.5,4.8 0,4.8 Z"/><ellipse cx="0" cy="0" rx="2.4" ry="4.8"/></g>
<g transform="translate(103.5,433) rotate(18)" fill="#fff" stroke="#000" stroke-width="1.30" stroke-linejoin="round"><path d="M0,-3.2 L4,-3.2 A1.44,3.2 0 0 1 4,3.2 L0,3.2 A1.44,3.2 0 0 1 0,-3.2 Z"/><ellipse cx="0" cy="0" rx="1.44" ry="3.2"/><ellipse cx="0" cy="0" rx="0.7" ry="1.5"/></g>
<g transform="translate(116.5,441.5) rotate(25)" fill="#fff" stroke="#000" stroke-width="1.30" stroke-linejoin="round"><path d="M0,-5.6 L8,-5.6 A2.52,5.6 0 0 1 8,5.6 L0,5.6 A2.52,5.6 0 0 1 0,-5.6 Z"/><ellipse cx="0" cy="0" rx="2.52" ry="5.6"/><ellipse cx="0" cy="0" rx="1.2" ry="2.3"/></g>
<path d="M126.5,447.5 L134,452.3" fill="none" stroke="#000" stroke-width="1.17" stroke-linejoin="round"/>
<path d="M143,457.5 L153.5,463.5" fill="none" stroke="#000" stroke-width="1.17" stroke-linejoin="round"/>
<path d="M115.3,482.8 L122,485.8" fill="none" stroke="#000" stroke-width="1.17" stroke-linejoin="round"/>
<path d="M135.0,445.8 Q136.4,441.5 140.9,441.1 Q144.2,441.5 146.8,445.0 L164.5,464.1 Q167.0,467.0 166.4,470.0 L165.1,482.8 Q164.5,486.3 161.5,486.7 L142.8,487.7 L139.5,488.3 L138.3,494.2 Q136.9,496.5 133.0,496.5 L125.1,495.9 Q121.8,495.0 121.4,492.2 L122.2,475.9 Q123.0,472.5 126.5,471.4 L134.0,467.4 L137.1,465.5 L138.3,455.6 Z" fill="#fff" stroke="#000" stroke-width="1.43" />
<path d="M138.3,455.6 L139.9,468.0 L139.5,488.3" fill="none" stroke="#000" stroke-width="1.17" />
<path d="M134.0,467.4 L135.0,478.8 Q134.0,484.7 130.1,486.7 L125.1,487.1 Q122.2,486.7 122.2,484.3" fill="none" stroke="#000" stroke-width="1.17" />
<path d="M126.5,471.4 L134.0,469.0" fill="none" stroke="#000" stroke-width="1.04" />
<path d="M155.6,455.2 L156.6,484.7" fill="none" stroke="#000" stroke-width="1.17" />
<ellipse cx="141.86332350049165" cy="447.3647984267453" rx="2.2" ry="3.0" transform="rotate(30 141.86332350049165 447.3647984267453)" fill="none" stroke="#000" stroke-width="1.30"/>
<ellipse cx="149.33628318584073" cy="463.4906588003933" rx="2.6" ry="3.8" transform="rotate(30 149.33628318584073 463.4906588003933)" fill="none" stroke="#000" stroke-width="1.30"/>
<ellipse cx="128.09734513274336" cy="477.2566371681416" rx="2.2" ry="2.8" transform="rotate(30 128.09734513274336 477.2566371681416)" fill="none" stroke="#000" stroke-width="1.30"/>
<ellipse cx="130.0639134709931" cy="490.6293018682399" rx="1.8" ry="2.6" transform="rotate(30 130.0639134709931 490.6293018682399)" fill="none" stroke="#000" stroke-width="1.30"/>
<ellipse cx="161.13569321533924" cy="479.22320550639137" rx="1.3" ry="2.0" transform="rotate(20 161.13569321533924 479.22320550639137)" fill="none" stroke="#000" stroke-width="1.30"/>
<ellipse cx="162.51229105211405" cy="468.99705014749264" rx="2.4" ry="3.6" transform="rotate(20 162.51229105211405 468.99705014749264)" fill="none" stroke="#000" stroke-width="1.43"/>
<path d="M142.8,487.7 Q141.9,480.8 144.8,479.2 Q147.4,478.8 147.8,481.8 L148.2,487.1" fill="none" stroke="#000" stroke-width="1.17" />
<path d="M130.3,490.6 L299.6,587.9" fill="none" stroke="#000" stroke-width="1.30" stroke-linejoin="round"/>
<path d="M180.4,475.9 L186.3,472.3 L188.6,473.0 L202.7,485.4 L198.1,488.8 L196.8,492.2 L194.9,509.3 L190.0,509.9 Q186.5,510.4 186.3,507.7 Q187.2,502.2 184.5,502.7 Q181.8,503.6 181.3,507.7 Q180.9,512.2 177.7,513.6 Q175.4,514.0 174.5,511.3 Q173.6,509.5 171.8,509.9 L166.4,509.7 L165.4,508.6 L173.6,503.1 L174.5,495.0 L180.0,491.3 L181.1,487.7 Z" fill="#fff" stroke="#000" stroke-width="1.43" />
<path d="M181.1,476.8 L181.8,487.7 L180.4,491.8 L175.0,495.4 L174.3,503.1 L166.8,508.4" fill="none" stroke="#000" stroke-width="1.30" />
<ellipse cx="189.49986384678226" cy="487.51066533539074" rx="2.0" ry="3.9" transform="rotate(35 189.49986384678226 487.51066533539074)" fill="none" stroke="#000" stroke-width="1.43"/>
<path d="M185.9,509.9 Q187.2,505.8 188.6,503.1" fill="none" stroke="#000" stroke-width="1.56" />
<g transform="translate(170.5,598.5) rotate(-13)" fill="#fff" stroke="#000" stroke-width="1.30" stroke-linejoin="round"><path d="M3,-1.9 L18,-1.9 Q19.2,0 18,1.9 L3,1.9 Z"/><path d="M5.0,-1.9 L6.2,1.9" stroke-width="1.17"/><path d="M7.0,-1.9 L8.2,1.9" stroke-width="1.17"/><path d="M9.0,-1.9 L10.2,1.9" stroke-width="1.17"/><path d="M11.0,-1.9 L12.2,1.9" stroke-width="1.17"/><path d="M13.0,-1.9 L14.2,1.9" stroke-width="1.17"/><path d="M15.0,-1.9 L16.2,1.9" stroke-width="1.17"/><path d="M0,-4.4 Q3.5,-4.4 4,-2.2 L4,2.2 Q3.5,4.4 0,4.4 Z"/><ellipse cx="0" cy="0" rx="2.2" ry="4.4"/></g>
<path d="M188.4,594.7 L198.7,591.9" fill="none" stroke="#000" stroke-width="1.17" stroke-linejoin="round"/>
<path d="M213.3,575.0 L220.5,574.4 Q222.3,573.2 224.1,574.1 Q226.3,575.0 226.0,577.4 Q225.4,579.2 222.9,579.2 L220.5,579.8 L213.9,581.0 Z" fill="#fff" stroke="#000" stroke-width="1.30" />
<path d="M220.5,574.4 L221.1,579.8 M218.7,574.7 L219.1,580.2" fill="none" stroke="#000" stroke-width="1.17" />
<path d="M199.9,585.9 L210.8,584.7 Q212.0,587.7 211.4,592.5 Q210.2,594.9 206.0,594.9 L201.8,594.9 Q198.7,593.7 199.0,590.1 Z" fill="#fff" stroke="#000" stroke-width="1.30" />
<ellipse cx="202.60211800302574" cy="591.3086232980332" rx="1.8" ry="2.0" transform="rotate(0 202.60211800302574 591.3086232980332)" fill="none" stroke="#000" stroke-width="1.30"/>
<path d="M202.4,571.9 Q207.2,570.1 210.8,571.9 Q214.5,574.4 213.9,581.0 Q213.3,586.7 209.6,587.7 L203.6,588.3 Q201.1,587.7 200.9,585.3 L200.7,574.4 Z" fill="#fff" stroke="#000" stroke-width="1.30" />
<path d="M206.0,571.9 Q208.4,573.2 209.0,579.2 Q209.0,585.3 207.8,587.7" fill="none" stroke="#000" stroke-width="1.30" />
<path d="M192.1,576.2 L199.9,574.4 L206.0,576.2 L206.6,584.7 L199.9,587.1 L191.7,585.9 Z" fill="#fff" stroke="#000" stroke-width="1.30" />
<path d="M192.1,576.2 L196.3,577.8 L206.0,576.2 M196.3,577.8 L196.1,586.7" fill="none" stroke="#000" stroke-width="1.17" />
<path d="M191.7,578.0 L191.7,585.3 Q193.9,587.4 196.1,586.7 L196.3,578.6 Q194.5,576.8 191.7,578.0 Z" fill="none" stroke="#000" stroke-width="1.30" />
<ellipse cx="194.13010590015128" cy="582.231467473525" rx="1.3" ry="2.6" transform="rotate(0 194.13010590015128 582.231467473525)" fill="none" stroke="#000" stroke-width="1.30"/>
<path d="M213.6,588.3 L253.6,579.9 L249.5,598.1 L315.5,584.3" fill="none" stroke="#000" stroke-width="1.30" stroke-linejoin="round"/>
<path d="M289.9,561.8 Q288.4,564.1 290.8,564.9 Q292.6,564.5 292.1,562.7 M292.1,563.6 L295.0,568.1 Q296.8,568.1 297.1,566.3 Q297.5,564.9 296.1,565.4" fill="none" stroke="#000" stroke-width="1.17" />
<ellipse cx="291.69934640522877" cy="575.0254175744371" rx="3.4" ry="4.1" transform="rotate(10 291.69934640522877 575.0254175744371)" fill="#fff" stroke="#000" stroke-width="1.30"/>
<ellipse cx="278" cy="610.5" rx="12.6" ry="14.0" transform="rotate(-10 278 610.5)" fill="none" stroke="#000" stroke-width="1.56"/>
<ellipse cx="278.6" cy="611.3" rx="8.9" ry="12.6" transform="rotate(-10 278.6 611.3)" fill="none" stroke="#000" stroke-width="1.43"/>
<g transform="translate(261.3,619) rotate(30)" fill="#fff" stroke="#000" stroke-width="1.30" stroke-linejoin="round"><path d="M3,-1.7 L10,-1.7 Q11.2,0 10,1.7 L3,1.7 Z"/><path d="M5.0,-1.7 L6.2,1.7" stroke-width="1.17"/><path d="M6.0,-1.7 L7.2,1.7" stroke-width="1.17"/><path d="M7.0,-1.7 L8.2,1.7" stroke-width="1.17"/><path d="M8.0,-1.7 L9.2,1.7" stroke-width="1.17"/><path d="M0,-3.4 Q3.5,-3.4 4,-1.7 L4,1.7 Q3.5,3.4 0,3.4 Z"/><ellipse cx="0" cy="0" rx="1.7" ry="3.4"/></g>
<path d="M268.2,631.2 L271.2,625.6 L275,630.8 Z" fill="#fff" stroke="#000" stroke-width="1.30" />
<path d="M275.7,627.1 L281.8,626.3 L281.8,634.6 L276.1,635.4 Z" fill="#fff" stroke="#000" stroke-width="1.30" />
<path d="M281.8,627.8 L288.6,632.4 L287.1,635.4 L281.8,633.1 Z" fill="#fff" stroke="#000" stroke-width="1.30" />
<path d="M284,629.5 L283,634 M286,630.8 L285,635" fill="none" stroke="#000" stroke-width="1.17" />
<path d="M276,622.5 L283,622 L283,626.5" fill="none" stroke="#000" stroke-width="1.17" />
<path d="M308.7,562.7 L325.4,553.6 L335.1,547.9 L346.6,548.5 L373.2,565.4 Q381.4,570.3 390.1,581.1 Q394.4,588.4 398.0,608.1 L401.6,621.1 L408.6,630.2 L413.1,627.7 Q425.2,624.7 441.6,634.4 Q447.9,639.8 448.5,644.1 L450.0,650.7 Q451.0,656.5 455.5,661.6 L455.2,671.3 Q454.0,676.2 451.3,676.8 L444.6,676.8 L441.6,674.0 L422.8,684.9 L417.1,684.3 L408.6,682.2 L402.5,679.8 L395.0,678.0 L358.7,658.6 L340.5,654.4 L308.7,639.8 L299.4,632.0 Q293.6,627.7 292.1,620.5 L294.5,612.9 L300.3,605.1 L303.3,596.3 L304.8,593.6 L308.1,593.6 L309.7,587.8 L308.1,583.0 L305.1,577.2 L308.1,568.4 Z" fill="#fff" stroke="#000" stroke-width="1.56" />
<path d="M324.8,555.7 L356.2,572.7 L357.5,576.3 L352.6,582.1 M327.2,553.9 L358.7,571.5 L367.1,569.0 L367.7,566.0 L373.2,565.4 M341.1,549.1 L367.7,566.0" fill="none" stroke="#000" stroke-width="1.30" />
<path d="M319.9,557.5 L344.1,576.3 L345.4,587.2" fill="none" stroke="#000" stroke-width="1.30" />
<path d="M343.5,573.3 Q345.1,579.3 344.1,585.4 L340.5,654.4" fill="none" stroke="#000" stroke-width="1.30" />
<path d="M297.5,630.8 L339.0,647.4 L340.5,654.4" fill="none" stroke="#000" stroke-width="1.17" />
<path d="M339.0,647.4 L358.7,652.0 L379.8,656.5 L384.4,659.5 L385.9,664.1 L395.0,667.1 L396.5,678.0" fill="none" stroke="#000" stroke-width="1.17" />
<path d="M371.4,644.4 L407.1,637.4" fill="none" stroke="#000" stroke-width="1.30" />
<path d="M370.8,644.4 L370.8,655.0 L384.4,659.5" fill="none" stroke="#000" stroke-width="1.17" />
<path d="M410.4,636.8 L411.1,683.2" fill="none" stroke="#000" stroke-width="1.30" />
<path d="M414.4,636.8 L415.1,681.8" fill="none" stroke="#000" stroke-width="1.30" />
<path d="M418.5,642.3 L419.2,680.4" fill="none" stroke="#000" stroke-width="1.30" />
<path d="M434.3,646.4 L434.9,677.7" fill="none" stroke="#000" stroke-width="1.30" />
<path d="M439.7,647.8 L440.1,674.0" fill="none" stroke="#000" stroke-width="1.30" />
<path d="M442.4,649.2 L442.4,674.0" fill="none" stroke="#000" stroke-width="1.30" />
<path d="M414.4,636.6 Q422.2,639.8 430.7,644.0 L449.9,650.8" fill="none" stroke="#000" stroke-width="1.30" />
<path d="M407.1,630.8 Q410.7,633.8 410.4,636.8 L414.3,636.8 Q414.6,632.3 413.1,627.7" fill="none" stroke="#000" stroke-width="1.30" />
<path d="M422.2,645.9 Q425.2,646.5 428.3,646.8" fill="none" stroke="#000" stroke-width="1.17" />
<ellipse cx="330.3" cy="600.5" rx="9.5" ry="14.8" transform="rotate(-8 330.3 600.5)" fill="#fff" stroke="#000" stroke-width="1.43"/>
<ellipse cx="323.9" cy="600.5" rx="11.0" ry="14.5" transform="rotate(-10 323.9 600.5)" fill="#fff" stroke="#000" stroke-width="1.56"/>
<ellipse cx="325.3857791225416" cy="600.5143721633888" rx="9.5" ry="12.5" transform="rotate(-10 325.3857791225416 600.5143721633888)" fill="none" stroke="#000" stroke-width="1.30"/>
<path d="M294.6,612.8 Q298,609 302,610.5 Q303.5,614 301,616.5 L296,617" fill="none" stroke="#000" stroke-width="1.30" />
<ellipse cx="362.5" cy="582.8" rx="4.3" ry="5.0" transform="rotate(25 362.5 582.8)" fill="#fff" stroke="#000" stroke-width="1.43"/>
<ellipse cx="362.8" cy="583.0" rx="2.8" ry="3.3" transform="rotate(25 362.8 583.0)" fill="none" stroke="#000" stroke-width="1.17"/>
<ellipse cx="363.0" cy="583.1" rx="1.3" ry="1.6" transform="rotate(25 363.0 583.1)" fill="none" stroke="#000" stroke-width="1.17"/>
<ellipse cx="381.3" cy="583.2" rx="4.3" ry="5.0" transform="rotate(25 381.3 583.2)" fill="#fff" stroke="#000" stroke-width="1.43"/>
<ellipse cx="381.6" cy="583.4" rx="2.8" ry="3.3" transform="rotate(25 381.6 583.4)" fill="none" stroke="#000" stroke-width="1.17"/>
<ellipse cx="381.8" cy="583.5" rx="1.3" ry="1.6" transform="rotate(25 381.8 583.5)" fill="none" stroke="#000" stroke-width="1.17"/>
<ellipse cx="348.6" cy="593.6" rx="4.3" ry="5.0" transform="rotate(25 348.6 593.6)" fill="#fff" stroke="#000" stroke-width="1.43"/>
<ellipse cx="348.9" cy="593.8" rx="2.8" ry="3.3" transform="rotate(25 348.9 593.8)" fill="none" stroke="#000" stroke-width="1.17"/>
<ellipse cx="349.1" cy="593.9" rx="1.3" ry="1.6" transform="rotate(25 349.1 593.9)" fill="none" stroke="#000" stroke-width="1.17"/>
<ellipse cx="362.3" cy="606.2" rx="4.3" ry="5.0" transform="rotate(25 362.3 606.2)" fill="#fff" stroke="#000" stroke-width="1.43"/>
<ellipse cx="362.6" cy="606.4" rx="2.8" ry="3.3" transform="rotate(25 362.6 606.4)" fill="none" stroke="#000" stroke-width="1.17"/>
<ellipse cx="362.8" cy="606.5" rx="1.3" ry="1.6" transform="rotate(25 362.8 606.5)" fill="none" stroke="#000" stroke-width="1.17"/>
<ellipse cx="381.3" cy="603.3" rx="4.3" ry="5.0" transform="rotate(25 381.3 603.3)" fill="#fff" stroke="#000" stroke-width="1.43"/>
<ellipse cx="381.6" cy="603.5" rx="2.8" ry="3.3" transform="rotate(25 381.6 603.5)" fill="none" stroke="#000" stroke-width="1.17"/>
<ellipse cx="381.8" cy="603.6" rx="1.3" ry="1.6" transform="rotate(25 381.8 603.6)" fill="none" stroke="#000" stroke-width="1.17"/>
<ellipse cx="345.2" cy="614.4" rx="4.3" ry="5.0" transform="rotate(25 345.2 614.4)" fill="#fff" stroke="#000" stroke-width="1.43"/>
<ellipse cx="345.5" cy="614.6" rx="2.8" ry="3.3" transform="rotate(25 345.5 614.6)" fill="none" stroke="#000" stroke-width="1.17"/>
<ellipse cx="345.7" cy="614.7" rx="1.3" ry="1.6" transform="rotate(25 345.7 614.7)" fill="none" stroke="#000" stroke-width="1.17"/>
<ellipse cx="387.2" cy="624" rx="4.3" ry="5.0" transform="rotate(25 387.2 624)" fill="#fff" stroke="#000" stroke-width="1.43"/>
<ellipse cx="387.5" cy="624.2" rx="2.8" ry="3.3" transform="rotate(25 387.5 624.2)" fill="none" stroke="#000" stroke-width="1.17"/>
<ellipse cx="387.7" cy="624.3" rx="1.3" ry="1.6" transform="rotate(25 387.7 624.3)" fill="none" stroke="#000" stroke-width="1.17"/>
<ellipse cx="347.5" cy="630.8" rx="4.3" ry="5.0" transform="rotate(25 347.5 630.8)" fill="#fff" stroke="#000" stroke-width="1.43"/>
<ellipse cx="347.8" cy="631.0" rx="2.8" ry="3.3" transform="rotate(25 347.8 631.0)" fill="none" stroke="#000" stroke-width="1.17"/>
<ellipse cx="348.0" cy="631.1" rx="1.3" ry="1.6" transform="rotate(25 348.0 631.1)" fill="none" stroke="#000" stroke-width="1.17"/>
<ellipse cx="367.7" cy="633.5" rx="4.3" ry="5.0" transform="rotate(25 367.7 633.5)" fill="#fff" stroke="#000" stroke-width="1.43"/>
<ellipse cx="368.0" cy="633.7" rx="2.8" ry="3.3" transform="rotate(25 368.0 633.7)" fill="none" stroke="#000" stroke-width="1.17"/>
<ellipse cx="368.2" cy="633.8" rx="1.3" ry="1.6" transform="rotate(25 368.2 633.8)" fill="none" stroke="#000" stroke-width="1.17"/>
<ellipse cx="428.3" cy="656.8" rx="4.3" ry="5.0" transform="rotate(25 428.3 656.8)" fill="#fff" stroke="#000" stroke-width="1.43"/>
<ellipse cx="428.6" cy="657.0" rx="2.8" ry="3.3" transform="rotate(25 428.6 657.0)" fill="none" stroke="#000" stroke-width="1.17"/>
<ellipse cx="428.8" cy="657.1" rx="1.3" ry="1.6" transform="rotate(25 428.8 657.1)" fill="none" stroke="#000" stroke-width="1.17"/>
<ellipse cx="428.3" cy="671.8" rx="4.3" ry="5.0" transform="rotate(25 428.3 671.8)" fill="#fff" stroke="#000" stroke-width="1.43"/>
<ellipse cx="428.6" cy="672.0" rx="2.8" ry="3.3" transform="rotate(25 428.6 672.0)" fill="none" stroke="#000" stroke-width="1.17"/>
<ellipse cx="428.8" cy="672.1" rx="1.3" ry="1.6" transform="rotate(25 428.8 672.1)" fill="none" stroke="#000" stroke-width="1.17"/>
<ellipse cx="319.2" cy="577.2" rx="5.0" ry="6.2" transform="rotate(10 319.2 577.2)" fill="#fff" stroke="#000" stroke-width="1.56"/>
<ellipse cx="319.0" cy="576.7" rx="2.4" ry="3.0" transform="rotate(10 319.0 576.7)" fill="none" stroke="#000" stroke-width="1.43"/>
<path d="M300.5,571.8 L312.5,569.2 Q315,572.5 313.5,576.3 L301.5,578.2 Q299,575 300.5,571.8 Z" fill="#fff" stroke="#000" stroke-width="1.30" />
<path d="M302.5,571.5 Q301,575 303.5,578 M305,571 Q303.5,574.5 306,577.6" fill="none" stroke="#000" stroke-width="1.17" />
<path d="M293.5,608 L327,600.5" fill="none" stroke="#000" stroke-width="1.30" stroke-linejoin="round"/>
<path d="M298.8,605.1 L310.3,585.4 Q313.9,580.8 318.7,581.8 Q322.4,584.2 320.8,589.9 L313.9,602.0" fill="none" stroke="#000" stroke-width="1.17" />
<path d="M449.4,639.8 L467,629" fill="none" stroke="#000" stroke-width="1.43" />
<path d="M577.7,524.5 L575.5,538 L568.4,557.5 Q563.5,576.2 544.9,587.7 L519.6,601.2 Q524.9,610.7 527,623.6 L565,606.9 Q585.1,586.2 593.7,558.9 L602.7,527.2" fill="#fff" stroke="#000" stroke-width="1.56" />
<path d="M519.6,601.2 Q514.7,606.4 519.0,613.5 Q523.3,620.7 527.0,623.6" fill="none" stroke="#000" stroke-width="1.30" />
<path d="M580.4,513.6 L577.7,524.5 Q580.9,530.0 590.0,531.3 Q599.0,531.3 602.7,527.7 L604.9,517.2" fill="#fff" stroke="#000" stroke-width="1.56" />
<path d="M578.2,523.1 Q581.8,528.6 590.0,529.8 Q599.0,530.0 603.1,526.3" fill="none" stroke="#000" stroke-width="2.21" />
<path d="M577.7,524.5 L577.2,527.2 Q581.8,532.2 590.0,532.9 Q599.0,532.7 602.2,529.0 L602.7,527.7" fill="#fff" stroke="#000" stroke-width="1.43" />
<ellipse cx="592.9" cy="513.2" rx="12.5" ry="5.9" transform="rotate(12 592.9 513.2)" fill="#fff" stroke="#000" stroke-width="1.82"/>
<ellipse cx="593.2" cy="513.8" rx="10.6" ry="4.5" transform="rotate(12 593.2 513.8)" fill="none" stroke="#000" stroke-width="1.30"/>
<path d="M574.5,527.2 Q570.0,528.1 569.1,531.3 L564.5,553.6 Q564.5,556.3 566.8,556.7 L576.3,557.6 L587.2,560.6 L590.0,544.5 L581.8,531.3 Z" fill="#fff" stroke="none"/>
<path d="M581.8,531.3 L574.5,527.2 Q570.0,528.1 569.1,531.3 L564.5,553.6 Q564.5,556.3 566.8,556.7 L576.3,557.6 L587.2,560.6 L590.0,544.5" fill="none" stroke="#000" stroke-width="1.43" />
<path d="M581.8,531.3 L578.2,550.8 L577.2,558.1 M571.8,530.0 L567.4,554.5" fill="none" stroke="#000" stroke-width="1.30" />
<path d="M572.3,552.5 L587.2,560.6" fill="none" stroke="#000" stroke-width="1.30" />
<ellipse cx="575.4" cy="535" rx="1.9" ry="2.5" transform="rotate(20 575.4 535)" fill="none" stroke="#000" stroke-width="1.43"/>
<ellipse cx="572.7" cy="552.2" rx="1.9" ry="2.5" transform="rotate(20 572.7 552.2)" fill="none" stroke="#000" stroke-width="1.43"/>
<path d="M576.8,535.9 L606.3,552.6" fill="none" stroke="#000" stroke-width="1.17" stroke-linejoin="round"/>
<g transform="translate(612,555.2) rotate(205)" fill="#fff" stroke="#000" stroke-width="1.30" stroke-linejoin="round"><path d="M4,-1.8 L7,-1.8 A0.81,1.8 0 0 1 7,1.8 L4,1.8 A0.81,1.8 0 0 1 4,-1.8 Z"/><ellipse cx="4" cy="0" rx="0.81" ry="1.8"/><path d="M2.5,-2.4 L4,-2.4 A1.08,2.4 0 0 1 4,2.4 L2.5,2.4 A1.08,2.4 0 0 1 2.5,-2.4 Z"/><ellipse cx="2.5" cy="0" rx="1.08" ry="2.4"/><path d="M0,-3.5 L2.5,-3.5 A1.57,3.5 0 0 1 2.5,3.5 L0,3.5 A1.57,3.5 0 0 1 0,-3.5 Z"/><ellipse cx="0" cy="0" rx="1.57" ry="3.5"/></g>
<path d="M486.9,618.7 L512.6,606.6 Q518.5,612.7 517.2,618.7 Q521.7,620.2 523.2,624.8 Q523,628 521.7,629.6 L497.5,642.2" fill="#fff" stroke="#000" stroke-width="1.56" />
<path d="M515.6,617.2 Q518,626 521.7,629.6" fill="none" stroke="#000" stroke-width="1.17" />
<path d="M455.1,666.4 L470.3,659.6" fill="none" stroke="#000" stroke-width="1.56" />
<path d="M559.8,605.8 L563.5,602.0 L573.6,601.2 Q575.9,603.5 574.2,606.9 L563.5,608.7 Z" fill="#fff" stroke="#000" stroke-width="1.30" />
<path d="M580.8,602.0 Q585.1,599.2 587.4,603.5 Q589.4,607.8 585.1,610.7 M582.8,605.8 L590.8,605.8 M580.8,606.9 Q584.5,611.5 589.4,608.7" fill="none" stroke="#000" stroke-width="1.17" />
<path d="M598.0,604.1 L612.4,602.0 L616.7,604.1 L614.4,610.7 L600.9,610.7 L598.0,608.7 Z" fill="#fff" stroke="#000" stroke-width="1.30" />
<path d="M600.9,602.9 L601.8,611.5 M605.2,603.5 Q606.7,606.9 605.2,611.0" fill="none" stroke="#000" stroke-width="1.17" />
<path d="M593.7,605.8 L598.0,605.8" fill="none" stroke="#000" stroke-width="1.17" />
<ellipse cx="590.4" cy="395.5" rx="14" ry="5.8" transform="rotate(8 590.4 395.5)" fill="#fff" stroke="#000" stroke-width="1.56"/>
<path d="M576.4,394.5 L576.9,399.5 Q590.4,407.0 604.1999999999999,401.0 L604.4,396.0" fill="none" stroke="#000" stroke-width="1.43" />
<ellipse cx="590.4" cy="396.5" rx="12.5" ry="4.6" transform="rotate(8 590.4 396.5)" fill="none" stroke="#000" stroke-width="1.17"/>
<path d="M574.4,396.5 L584.4,400.5 L590.9,403.0 L589.4,407.5 L583.4,406.5 L574.4,401.5 Z" fill="#fff" stroke="#000" stroke-width="1.30" />
<path d="M580.4,399.0 L579.4,404.5 M585.4,401.5 L584.4,406.5" fill="none" stroke="#000" stroke-width="1.17" />
<g transform="translate(567.5,394.5) rotate(28)" fill="#fff" stroke="#000" stroke-width="1.30" stroke-linejoin="round"><path d="M3,-1.6 L6,-1.6 Q7.2,0 6,1.6 L3,1.6 Z"/><path d="M5.0,-1.6 L6.2,1.6" stroke-width="1.17"/><path d="M5.0,-1.6 L6.2,1.6" stroke-width="1.17"/><path d="M0,-3.3 Q3.5,-3.3 4,-1.65 L4,1.65 Q3.5,3.3 0,3.3 Z"/><ellipse cx="0" cy="0" rx="1.65" ry="3.3"/></g>
<ellipse cx="597.3" cy="492" rx="14" ry="5.8" transform="rotate(8 597.3 492)" fill="#fff" stroke="#000" stroke-width="1.56"/>
<path d="M583.3,491 L583.8,496 Q597.3,503.5 611.0999999999999,497.5 L611.3,492.5" fill="none" stroke="#000" stroke-width="1.43" />
<ellipse cx="597.3" cy="493" rx="12.5" ry="4.6" transform="rotate(8 597.3 493)" fill="none" stroke="#000" stroke-width="1.17"/>
<path d="M581.3,493 L591.3,497 L597.8,499.5 L596.3,504 L590.3,503 L581.3,498 Z" fill="#fff" stroke="#000" stroke-width="1.30" />
<path d="M587.3,495.5 L586.3,501 M592.3,498 L591.3,503" fill="none" stroke="#000" stroke-width="1.17" />
<g transform="translate(574.5,491) rotate(28)" fill="#fff" stroke="#000" stroke-width="1.30" stroke-linejoin="round"><path d="M3,-1.6 L6,-1.6 Q7.2,0 6,1.6 L3,1.6 Z"/><path d="M5.0,-1.6 L6.2,1.6" stroke-width="1.17"/><path d="M5.0,-1.6 L6.2,1.6" stroke-width="1.17"/><path d="M0,-3.3 Q3.5,-3.3 4,-1.65 L4,1.65 Q3.5,3.3 0,3.3 Z"/><ellipse cx="0" cy="0" rx="1.65" ry="3.3"/></g>
<line x1="593.3" y1="378" x2="591.4" y2="392" stroke="#000" stroke-width="1.30"/>
<path d="M568.9,426.5 Q568.0,434.5 570.1,441.0 Q572.5,450.6 580.5,457.0 L591.7,460.2 Q586.9,465.0 586.6,471.4 Q586.9,479.5 601.3,482.7 Q614.2,483.5 616.6,476.3 Q617.4,469.8 615.8,466.6 Q620.6,455.4 617.4,445.8 Q614.2,441.0 602.9,437.0 L599.7,434.5 Q602.1,428.1 601.3,420.9 Q598.1,410.5 583.7,410.5 Q570.9,411.3 570.1,418.5 Z" fill="#fff" stroke="#000" stroke-width="1.56" />
<ellipse cx="585.5" cy="417.5" rx="16.5" ry="7.5" transform="rotate(5 585.5 417.5)" fill="none" stroke="#000" stroke-width="1.43"/>
<ellipse cx="585.8" cy="418.5" rx="13" ry="5.3" transform="rotate(5 585.8 418.5)" fill="none" stroke="#000" stroke-width="1.30"/>
<path d="M568.5,421.7 Q569.3,427.3 583.7,428.1 Q598.9,427.8 600.5,421.7" fill="none" stroke="#000" stroke-width="1.30" />
<path d="M568.5,426.5 Q569.3,432.1 583.7,432.9 Q598.9,432.6 600.5,426.5" fill="none" stroke="#000" stroke-width="1.30" />
<path d="M568.5,431.3 Q569.3,437.0 583.7,437.8 Q598.9,437.4 600.5,431.3" fill="none" stroke="#000" stroke-width="1.30" />
<path d="M570.1,435.4 Q574.1,447.4 586.9,445.8 Q596.5,444.2 596.5,439.4" fill="none" stroke="#000" stroke-width="1.30" />
<path d="M574.1,449.0 Q582.1,455.4 591.7,455.4 Q599.7,453.8 601.3,449.0" fill="none" stroke="#000" stroke-width="1.30" />
<path d="M595.7,437.8 Q602.9,441.0 607.8,455.4 Q609.4,463.4 602.9,467.4 M599.7,437.8 Q611.0,437.8 617.4,449.0 M602.9,437.0 L611.8,444.2 L617.4,452.2 Q617.4,463.4 614.2,469.8" fill="none" stroke="#000" stroke-width="1.17" />
<path d="M591.7,460.2 Q602.9,463.4 614.2,455.4 M592.5,463.4 Q602.9,467.4 615.8,460.2" fill="none" stroke="#000" stroke-width="1.17" />
<path d="M586.6,469.8 Q590.1,474.7 601.3,474.7 Q614.2,474.3 616.6,469.0" fill="none" stroke="#000" stroke-width="1.30" />
<path d="M586.6,474.7 Q590.1,479.5 601.3,479.5 Q614.2,479.1 616.6,473.9" fill="none" stroke="#000" stroke-width="1.30" />
<path d="M586.6,478.7 Q590.1,483.5 601.3,483.5 Q614.2,483.2 616.6,477.9" fill="none" stroke="#000" stroke-width="1.30" />
<ellipse cx="584.0" cy="441.5" rx="14.5" ry="7.0" transform="rotate(12 584.0 441.5)" fill="none" stroke="#000" stroke-width="1.30"/>
<ellipse cx="586.5" cy="451.5" rx="14.0" ry="7.0" transform="rotate(18 586.5 451.5)" fill="none" stroke="#000" stroke-width="1.30"/>
<path d="M316.3,474.8 Q315.1,478.5 318.1,481.5 M321.8,474.8 Q325.4,477.3 323.0,481.5" fill="none" stroke="#000" stroke-width="1.17" stroke-dasharray="3 2"/>
<path d="M318.7,485.7 L313.3,507.5" fill="none" stroke="#000" stroke-width="1.17" stroke-linejoin="round"/>
<ellipse cx="314.2" cy="509.4" rx="4.6" ry="1.9" transform="rotate(-5 314.2 509.4)" fill="none" stroke="#000" stroke-width="1.30"/>
<path d="M301.8,504.5 Q302.4,502.7 303.6,503.9 Q304.8,505.7 307.2,505.7 Q309.1,505.1 308.8,503.3 Q309.1,501.7 310.5,502.1 Q311.7,503.3 310.9,506.3 L310.3,507.5" fill="none" stroke="#000" stroke-width="1.17" />
<path d="M307.2,517.8 Q309.1,516.0 312.7,516.6 Q316.3,517.5 316.3,519.6 L315.7,526.9 Q315.1,529.9 310.3,531.1 L304.2,533.2 Q301.5,533.6 301.5,531.1 Q302.0,529.1 304.2,528.1 L307.2,519.0 Z" fill="#fff" stroke="#000" stroke-width="1.30" />
<path d="M307.2,519.0 Q311.5,520.8 316.3,519.6 M303.0,529.9 L314.5,526.3 M303.2,531.7 L315.1,527.9 M310.9,517.2 L311.7,519.9 M312.7,517.0 L313.3,519.6" fill="none" stroke="#000" stroke-width="1.17" />
<path d="M312,512 L311.5,517" fill="none" stroke="#000" stroke-width="1.17" stroke-linejoin="round"/>
<path d="M333.3,500.3 L331.5,510.6 L488.8,469.2 L505.7,391.5 L592.8,369.7 L594.5,378" fill="none" stroke="#000" stroke-width="1.30" stroke-linejoin="round" stroke-dasharray="80 2.5 1 2.5"/>
<path d="M349,630.7 L374.3,647 L374.3,676" fill="none" stroke="#000" stroke-width="1.30" stroke-linejoin="round"/>
<path d="M435.1,712.4 L450.2,704.5 L450.6,710.6 Q451.8,716.0 454.7,715.7 Q456.9,714.2 456.3,709.4 L455.7,705.1 L465.4,699.7 Q470.2,698.7 472.6,700.3 Q475.6,703.3 474.4,708.2 Q471.4,712.4 472.6,715.7 Q475.6,716.9 478.7,713.0 L484.7,710.6 L484.7,769.9 L456.3,769.9 L455.9,756.0 Q453.3,755.4 450.8,758.4 L446.0,762.0 L440.5,762.6 Q439.3,760.8 438.5,758.4 L431.0,756.8 L430.3,751.7 L431.7,749.3 L437.5,748.1 Q442.4,745.9 440.9,741.4 L436.3,740.2 L433.9,738.2 L433.9,729.9 L435.1,726.9 L440.5,725.3 Q443.3,721.7 440.5,717.6 L435.7,716.4 Z" fill="#fff" stroke="#000" stroke-width="1.43" />
<path d="M435.1,712.4 L450.2,704.5 L450.6,710.6 Q451.8,716.0 454.7,715.7 Q456.9,714.2 456.3,709.4 L455.7,705.1 L465.4,699.7 Q470.2,698.7 472.6,700.3 Q475.6,703.3 474.4,708.2 Q471.4,712.4 472.6,715.7 Q475.6,716.9 478.7,713.0 L484.7,710.6 L484.7,769.9 L456.3,769.9 L455.9,756.0 Q453.3,755.4 450.8,758.4 L446.0,762.0 L440.5,762.6 Q439.3,760.8 438.5,758.4 L431.0,756.8 L430.3,751.7 L431.7,749.3 L437.5,748.1 Q442.4,745.9 440.9,741.4 L436.3,740.2 L433.9,738.2 L433.9,729.9 L435.1,726.9 L440.5,725.3 Q443.3,721.7 440.5,717.6 L435.7,716.4 Z" transform="translate(0.9,0.5)" fill="none" stroke="#000" stroke-width="0.91"/>
<ellipse cx="453.3" cy="735.4" rx="2.5" ry="3.7" transform="rotate(25 453.3 735.4)" fill="none" stroke="#000" stroke-width="1.43"/>
<path d="M453.3,757.8 L455.1,756.3 L455.7,762.6" fill="none" stroke="#000" stroke-width="1.17" />
<path d="M374.3,676 L374.3,721.8 L468,775.8" fill="none" stroke="#000" stroke-width="1.30" stroke-linejoin="round" stroke-dasharray="80 2.5 1 2.5"/>
<path d="M469.6,729.7 L488.7,720.2 Q493.4,718.0 499.8,718.6 L509.3,723.4 Q515.0,728.1 516.3,737.6 L520.4,756.7 Q525.2,769.4 537.9,783.7 L550.6,794.8 Q557.6,801.2 557.0,810.1 Q557.6,818.7 552.2,823.4 Q547.4,825.0 544.9,820.2 L537.9,810.7 Q528.4,799.6 512.5,793.2 L493.4,785.3 L480.1,782.8 Q475.0,785.3 470.5,786.9 L465.5,784.7 L464.8,767.8 L468.6,763.1 L465.8,757.3 L466.4,747.2 L469.9,740.8 L467.4,734.5 Z" fill="#fff" stroke="#000" stroke-width="1.56" />
<path d="M481.3,782.1 Q499.8,777.4 520.4,773.2 Q529.9,772.0 537.9,783.7" fill="none" stroke="#000" stroke-width="1.30" />
<path d="M470.5,729.7 L471.8,785.3" fill="none" stroke="#000" stroke-width="1.17" />
<path d="M509.3,796.4 Q512.5,799.6 515.7,796.4 Q518.8,794.2 520.4,799.6 Q522.0,803.7 525.2,800.5 Q527.7,798.6 528.4,801.8" fill="none" stroke="#000" stroke-width="1.30" />
<ellipse cx="486.4" cy="729.7" rx="3.8" ry="4.4" transform="rotate(25 486.4 729.7)" fill="#fff" stroke="#000" stroke-width="1.43"/>
<ellipse cx="486.7" cy="729.9" rx="2.4" ry="2.9" transform="rotate(25 486.7 729.9)" fill="none" stroke="#000" stroke-width="1.17"/>
<ellipse cx="486.9" cy="730.0" rx="1.1" ry="1.4" transform="rotate(25 486.9 730.0)" fill="none" stroke="#000" stroke-width="1.17"/>
<ellipse cx="506.1" cy="729.7" rx="3.8" ry="4.4" transform="rotate(25 506.1 729.7)" fill="#fff" stroke="#000" stroke-width="1.43"/>
<ellipse cx="506.4" cy="729.9" rx="2.4" ry="2.9" transform="rotate(25 506.4 729.9)" fill="none" stroke="#000" stroke-width="1.17"/>
<ellipse cx="506.6" cy="730.0" rx="1.1" ry="1.4" transform="rotate(25 506.6 730.0)" fill="none" stroke="#000" stroke-width="1.17"/>
<ellipse cx="485.5" cy="753.5" rx="3.8" ry="4.4" transform="rotate(25 485.5 753.5)" fill="#fff" stroke="#000" stroke-width="1.43"/>
<ellipse cx="485.8" cy="753.7" rx="2.4" ry="2.9" transform="rotate(25 485.8 753.7)" fill="none" stroke="#000" stroke-width="1.17"/>
<ellipse cx="486.0" cy="753.8" rx="1.1" ry="1.4" transform="rotate(25 486.0 753.8)" fill="none" stroke="#000" stroke-width="1.17"/>
<ellipse cx="504.5" cy="750.4" rx="3.8" ry="4.4" transform="rotate(25 504.5 750.4)" fill="#fff" stroke="#000" stroke-width="1.43"/>
<ellipse cx="504.8" cy="750.6" rx="2.4" ry="2.9" transform="rotate(25 504.8 750.6)" fill="none" stroke="#000" stroke-width="1.17"/>
<ellipse cx="505.0" cy="750.7" rx="1.1" ry="1.4" transform="rotate(25 505.0 750.7)" fill="none" stroke="#000" stroke-width="1.17"/>
<ellipse cx="509.9" cy="770.1" rx="3.8" ry="4.4" transform="rotate(25 509.9 770.1)" fill="#fff" stroke="#000" stroke-width="1.43"/>
<ellipse cx="510.2" cy="770.3" rx="2.4" ry="2.9" transform="rotate(25 510.2 770.3)" fill="none" stroke="#000" stroke-width="1.17"/>
<ellipse cx="510.4" cy="770.4" rx="1.1" ry="1.4" transform="rotate(25 510.4 770.4)" fill="none" stroke="#000" stroke-width="1.17"/>
<ellipse cx="491.8" cy="779.6" rx="3.8" ry="4.4" transform="rotate(25 491.8 779.6)" fill="#fff" stroke="#000" stroke-width="1.43"/>
<ellipse cx="492.1" cy="779.8" rx="2.4" ry="2.9" transform="rotate(25 492.1 779.8)" fill="none" stroke="#000" stroke-width="1.17"/>
<ellipse cx="492.3" cy="779.9" rx="1.1" ry="1.4" transform="rotate(25 492.3 779.9)" fill="none" stroke="#000" stroke-width="1.17"/>
<ellipse cx="473.7" cy="740.2" rx="3.8" ry="4.4" transform="rotate(25 473.7 740.2)" fill="#fff" stroke="#000" stroke-width="1.43"/>
<ellipse cx="474.0" cy="740.4" rx="2.4" ry="2.9" transform="rotate(25 474.0 740.4)" fill="none" stroke="#000" stroke-width="1.17"/>
<ellipse cx="474.2" cy="740.5" rx="1.1" ry="1.4" transform="rotate(25 474.2 740.5)" fill="none" stroke="#000" stroke-width="1.17"/>
<ellipse cx="471.8" cy="762.4" rx="3.8" ry="4.4" transform="rotate(25 471.8 762.4)" fill="#fff" stroke="#000" stroke-width="1.43"/>
<ellipse cx="472.1" cy="762.6" rx="2.4" ry="2.9" transform="rotate(25 472.1 762.6)" fill="none" stroke="#000" stroke-width="1.17"/>
<ellipse cx="472.3" cy="762.7" rx="1.1" ry="1.4" transform="rotate(25 472.3 762.7)" fill="none" stroke="#000" stroke-width="1.17"/>
<ellipse cx="473.4" cy="780.5" rx="3.8" ry="4.4" transform="rotate(25 473.4 780.5)" fill="#fff" stroke="#000" stroke-width="1.43"/>
<ellipse cx="473.7" cy="780.7" rx="2.4" ry="2.9" transform="rotate(25 473.7 780.7)" fill="none" stroke="#000" stroke-width="1.17"/>
<ellipse cx="473.9" cy="780.8" rx="1.1" ry="1.4" transform="rotate(25 473.9 780.8)" fill="none" stroke="#000" stroke-width="1.17"/>
<ellipse cx="552.5" cy="802.8" rx="3.8" ry="4.4" transform="rotate(25 552.5 802.8)" fill="#fff" stroke="#000" stroke-width="1.43"/>
<ellipse cx="552.8" cy="803.0" rx="2.4" ry="2.9" transform="rotate(25 552.8 803.0)" fill="none" stroke="#000" stroke-width="1.17"/>
<ellipse cx="553.0" cy="803.1" rx="1.1" ry="1.4" transform="rotate(25 553.0 803.1)" fill="none" stroke="#000" stroke-width="1.17"/>
<ellipse cx="552.5" cy="818.7" rx="3.8" ry="4.4" transform="rotate(25 552.5 818.7)" fill="#fff" stroke="#000" stroke-width="1.43"/>
<ellipse cx="552.8" cy="818.9" rx="2.4" ry="2.9" transform="rotate(25 552.8 818.9)" fill="none" stroke="#000" stroke-width="1.17"/>
<ellipse cx="553.0" cy="819.0" rx="1.1" ry="1.4" transform="rotate(25 553.0 819.0)" fill="none" stroke="#000" stroke-width="1.17"/>
<path d="M480.7,785.3 L483.9,806 L492.5,811.5" fill="none" stroke="#000" stroke-width="1.30" stroke-linejoin="round"/>
<g transform="translate(509.5,821) rotate(205)" fill="#fff" stroke="#000" stroke-width="1.30" stroke-linejoin="round"><path d="M3,-2.0 L15,-2.0 Q16.2,0 15,2.0 L3,2.0 Z"/><path d="M5.0,-2.0 L6.2,2.0" stroke-width="1.17"/><path d="M6.8,-2.0 L8.0,2.0" stroke-width="1.17"/><path d="M8.6,-2.0 L9.8,2.0" stroke-width="1.17"/><path d="M10.4,-2.0 L11.6,2.0" stroke-width="1.17"/><path d="M12.2,-2.0 L13.4,2.0" stroke-width="1.17"/><path d="M0,-4.8 Q3.5,-4.8 4,-2.4 L4,2.4 Q3.5,4.8 0,4.8 Z"/><ellipse cx="0" cy="0" rx="2.4" ry="4.8"/></g>
<path d="M467.2,626.3 L483.1,618.0 Q485.4,617.5 487.2,618.7 Q494.5,627.8 497.5,639.9 Q498.2,646.0 496.0,649.0 L492.2,650.2 Q488.4,652.8 485.4,651.3 L483.1,656.3 L472.1,662.6 Q465.4,661.1 463.4,655.4 Q470.3,653.5 472.1,647.5 Q473.6,635.4 467.2,626.3 Z" fill="#fff" stroke="#000" stroke-width="1.56" />
<path d="M469.5,626.0 Q475.6,635.4 474.0,649.0 Q472.5,655.1 468.0,657.3" fill="none" stroke="#000" stroke-width="1.30" />
<path d="M477.8,630.5 L486.9,627.1 L490.7,635.4 L481.6,639.2 Z" fill="none" stroke="#000" stroke-width="1.30" />
<ellipse cx="474.49319213313163" cy="627.0650529500756" rx="1.6" ry="1.1" transform="rotate(-20 474.49319213313163 627.0650529500756)" fill="none" stroke="#000" stroke-width="1.30"/>
<ellipse cx="482.36006051437215" cy="622.5264750378215" rx="1.6" ry="1.2" transform="rotate(-20 482.36006051437215 622.5264750378215)" fill="none" stroke="#000" stroke-width="1.43"/>
<path d="M484.2,644.5 Q485.4,641.4 489.2,641.1 Q492.2,642.2 492.2,646.0 L491.4,650.5 Q488.4,652.3 485.4,651.3 Q483.6,649.0 484.2,644.5 Z" fill="#fff" stroke="#000" stroke-width="1.30" />
<circle cx="450.6" cy="637.7" r="1.7" fill="#fff" stroke="#000" stroke-width="1.30"/>
<circle cx="458.2" cy="633.9" r="1.7" fill="#fff" stroke="#000" stroke-width="1.30"/>
<circle cx="465.7" cy="630.8" r="1.7" fill="#fff" stroke="#000" stroke-width="1.30"/>
<circle cx="451.3" cy="641.1" r="1.2" fill="#fff" stroke="#000" stroke-width="1.17"/>
<circle cx="458.9" cy="638.1" r="1.2" fill="#fff" stroke="#000" stroke-width="1.17"/>
<path d="M426.7,598.6 Q427.0,596.8 429.1,597.1 L432.1,598.3 L437.5,600.1 L444.2,599.5 L447.5,601.6 Q448.7,603.4 448.4,606.4 Q447.8,610.1 445.4,611.0 L441.2,613.1 L428.5,605.8 Q426.7,604.6 426.7,602.2 Z" fill="#fff" stroke="#000" stroke-width="1.56" />
<path d="M429.1,600.1 L441.8,606.4 L447.5,602.2 M441.8,606.4 Q442.7,609.5 441.2,613.1" fill="none" stroke="#000" stroke-width="1.30" />
<path d="M429.7,601.0 Q429.1,601.9 430.0,602.5 L438.8,607.0 Q440.0,607.3 440.0,606.4 L430.6,601.0 Q430.0,600.7 429.7,601.0 Z" fill="none" stroke="#000" stroke-width="1.43" />
<path d="M427.0,588.0 Q427.3,586.5 429.7,585.9 L433.9,583.4 L447.2,591.0 Q448.7,592.5 448.4,595.2 Q447.8,598.0 445.4,598.9 L442.4,599.5 L441.2,599.5 L428.5,594.3 Q427.0,593.7 427.0,592.2 Z" fill="#fff" stroke="#000" stroke-width="1.56" />
<path d="M428.5,587.1 Q429.7,588.0 432.1,588.9 L442.4,594.3 L447.5,591.6 M442.4,594.3 Q443.0,596.8 442.4,599.5" fill="none" stroke="#000" stroke-width="1.30" />
<path d="M429.7,590.1 Q429.1,591.0 430.0,591.6 L438.8,596.2 Q440.0,596.5 440.0,595.5 Q439.7,594.9 438.8,594.5 L430.6,590.1 Q430.0,589.8 429.7,590.1 Z" fill="none" stroke="#000" stroke-width="1.43" />
<path d="M430.3,595.9 Q432.4,595.7 432.7,597.4 L432.8,598.9" fill="none" stroke="#000" stroke-width="1.30" />
<path d="M403.7,616.3 L411.0,609.5 L415.1,611.0 L418.2,609.0 L426.0,611.5 L426.5,616.3 L421.2,618.7 L417.5,621.6 L409.0,624.8 L404.2,621.2 Z" fill="#fff" stroke="#000" stroke-width="1.30" />
<path d="M403.7,616.3 L411.5,618.7 L426.5,613.9 M411.5,618.7 L411.0,624.8 M416.3,619.9 L416.8,623.6" fill="none" stroke="#000" stroke-width="1.17" />
<path d="M425,612 L433,607" fill="none" stroke="#000" stroke-width="1.17" stroke-linejoin="round"/>
<path d="M209.0,615.7 Q232.6,608.8 242.4,611.8 Q254.2,615.7 257.2,623.6 Q260.1,629.5 257.8,636.4 Q254.2,644.2 244.4,645.2 Q236.5,644.8 234.6,639.3 L232.6,635.4 L212.9,639.3 Z" fill="#fff" stroke="#000" stroke-width="1.56" />
<ellipse cx="247.34513274336285" cy="635.3982300884956" rx="8.5" ry="12.5" transform="rotate(60 247.34513274336285 635.3982300884956)" fill="#fff" stroke="#000" stroke-width="1.43"/>
<ellipse cx="247.34513274336285" cy="635.7915437561455" rx="6.3" ry="10" transform="rotate(60 247.34513274336285 635.7915437561455)" fill="none" stroke="#000" stroke-width="1.17"/>
<path d="M236.5,612.8 Q248.3,617.7 252.3,627.5 M239.5,612.2 Q251.3,616.7 255.2,627.5" fill="none" stroke="#000" stroke-width="1.17" />
<ellipse cx="214.9" cy="624.6" rx="3.6" ry="12.5" transform="rotate(-8 214.9 624.6)" fill="#fff" stroke="#000" stroke-width="1.30"/>
<ellipse cx="220.8" cy="623.6" rx="3.6" ry="12.5" transform="rotate(-8 220.8 623.6)" fill="none" stroke="#000" stroke-width="1.30"/>
<ellipse cx="226.7" cy="623.2" rx="3.6" ry="12.5" transform="rotate(-8 226.7 623.2)" fill="none" stroke="#000" stroke-width="1.30"/>
<ellipse cx="232.6" cy="623.2" rx="3.6" ry="12.5" transform="rotate(-8 232.6 623.2)" fill="none" stroke="#000" stroke-width="1.30"/>
<ellipse cx="237.5" cy="623.6" rx="3.6" ry="12.5" transform="rotate(-8 237.5 623.6)" fill="none" stroke="#000" stroke-width="1.30"/>
<path d="M212.9,614.7 L240.5,611.8 M213.9,638.3 L237.5,637.4" fill="none" stroke="#000" stroke-width="1.30" />
<ellipse cx="217.8" cy="624.0" rx="3.2" ry="12.0" transform="rotate(-8 217.8 624.0)" fill="none" stroke="#000" stroke-width="1.04"/>
<ellipse cx="223.7" cy="623.4" rx="3.2" ry="12.0" transform="rotate(-8 223.7 623.4)" fill="none" stroke="#000" stroke-width="1.04"/>
<ellipse cx="229.6" cy="623.2" rx="3.2" ry="12.0" transform="rotate(-8 229.6 623.2)" fill="none" stroke="#000" stroke-width="1.04"/>
<ellipse cx="235.2" cy="623.4" rx="3.2" ry="12.0" transform="rotate(-8 235.2 623.4)" fill="none" stroke="#000" stroke-width="1.04"/>
<ellipse cx="207.0" cy="629.5" rx="6.5" ry="17" transform="rotate(-18 207.0 629.5)" fill="#fff" stroke="#000" stroke-width="1.43"/>
<ellipse cx="203.1" cy="630.5" rx="6.5" ry="17.5" transform="rotate(-18 203.1 630.5)" fill="#fff" stroke="#000" stroke-width="1.43"/>
<ellipse cx="199.2" cy="631.5" rx="6.5" ry="17.5" transform="rotate(-18 199.2 631.5)" fill="#fff" stroke="#000" stroke-width="1.43"/>
<ellipse cx="194.2" cy="632.4" rx="6.5" ry="17" transform="rotate(-18 194.2 632.4)" fill="#fff" stroke="#000" stroke-width="1.43"/>
<path d="M182.4,621.6 L189.3,618.7 L191.3,646.2 L184.4,648.2 Z" fill="#fff" stroke="#000" stroke-width="1.30" />
<path d="M171.2,621.6 L177.5,618.7 L181.5,621.6 L182.4,632.4 L177.5,635.0 L171.6,632.4 Z" fill="#fff" stroke="#000" stroke-width="1.43" />
<ellipse cx="175.5653883972468" cy="626.5486725663717" rx="2.4" ry="3.2" transform="rotate(0 175.5653883972468 626.5486725663717)" fill="none" stroke="#000" stroke-width="1.30"/>
<path d="M177.5,618.7 L177.5,621.6 L182.4,623.6" fill="none" stroke="#000" stroke-width="1.04" />
<ellipse cx="179.5" cy="639.3" rx="4.5" ry="11" transform="rotate(-38 179.5 639.3)" fill="#fff" stroke="#000" stroke-width="1.43"/>
<ellipse cx="175.6" cy="642.3" rx="4.5" ry="11" transform="rotate(-38 175.6 642.3)" fill="#fff" stroke="#000" stroke-width="1.43"/>
<ellipse cx="171.6" cy="645.2" rx="4.5" ry="11" transform="rotate(-38 171.6 645.2)" fill="#fff" stroke="#000" stroke-width="1.43"/>
<ellipse cx="168.1" cy="648.2" rx="4.5" ry="11" transform="rotate(-38 168.1 648.2)" fill="#fff" stroke="#000" stroke-width="1.43"/>
<ellipse cx="163.7659783677483" cy="650.7374631268436" rx="5.2" ry="11.5" transform="rotate(-40 163.7659783677483 650.7374631268436)" fill="#fff" stroke="#000" stroke-width="1.56"/>
<ellipse cx="164.15929203539824" cy="650.3441494591937" rx="3.6" ry="9" transform="rotate(-40 164.15929203539824 650.3441494591937)" fill="none" stroke="#000" stroke-width="1.17"/>
<path d="M104.0,664.8 L114.1,656.4 L120.4,655.3 Q126.8,654.2 129.9,659.5 L131.5,664.8 L137.4,666.9 L145.8,670.1 L152.2,677.5 L153.2,684.9 L151.1,689.2 L154.3,695.5 L157.5,700.8 Q157.7,707.2 152.2,710.4 L144.8,712.7 L135.2,711.6 L131.0,709.3 Q126.8,712.5 119.4,710.9 Q113.0,708.8 111.9,701.9 L113.0,695.5 L107.7,690.2 L101.4,688.1 Q98.0,686.0 98.7,681.8 L101.4,675.4 L105.6,671.2 Z" fill="#fff" stroke="#000" stroke-width="1.56" />
<path d="M104.5,664.8 L113.5,659.7 L120.9,662.5 L121.7,666.9 L113.2,671.7 L105.2,669.3 Z" fill="none" stroke="#000" stroke-width="1.30" />
<path d="M105.2,665.9 L113.0,668.0 L120.9,663.2 M113.0,668.0 L113.2,671.7" fill="none" stroke="#000" stroke-width="1.17" />
<path d="M106.6,661.6 L114.6,657.4 L120.2,659.5" fill="none" stroke="#000" stroke-width="1.17" />
<ellipse cx="125.18108651911469" cy="660.0603621730382" rx="4.5" ry="5.3" transform="rotate(0 125.18108651911469 660.0603621730382)" fill="#fff" stroke="#000" stroke-width="1.30"/>
<ellipse cx="126.76956475696284" cy="660.0603621730382" rx="3.2" ry="4.6" transform="rotate(0 126.76956475696284 660.0603621730382)" fill="none" stroke="#000" stroke-width="1.17"/>
<path d="M101.4,675.4 Q98.2,680.7 99.8,686.0 Q101.4,688.7 104.5,688.1 L108.8,681.8 L110.9,674.4 Q106.6,672.8 101.4,675.4 Z" fill="none" stroke="#000" stroke-width="1.30" />
<path d="M102.9,676.5 Q100.3,681.8 102.4,686.5" fill="none" stroke="#000" stroke-width="1.17" />
<path d="M105.6,671.7 L110.9,674.4 L116.2,672.8" fill="none" stroke="#000" stroke-width="1.17" />
<path d="M115.1,672.8 L117.8,676.5 L126.8,690.2 L129.9,696.6 M117.8,671.7 L120.4,675.4 L128.9,689.2 L132.1,695.5" fill="none" stroke="#000" stroke-width="1.17" />
<path d="M125.7,678.6 Q125.2,680.7 126.8,680.7 L138.4,675.9 Q140.5,674.9 139.5,674.1 L126.8,677.7 Z" fill="none" stroke="#000" stroke-width="1.17" />
<path d="M141.6,674.4 L144.8,675.4 L147.9,681.8 L147.9,686.5 M144.8,675.4 L151.1,677.5" fill="none" stroke="#000" stroke-width="1.17" />
<path d="M109.8,684.9 L122.5,690.2 L125.7,694.5 M110.9,688.1 L120.4,691.3" fill="none" stroke="#000" stroke-width="1.17" />
<path d="M138.4,687.1 L144.8,686.0 L150.6,689.2 L151.1,694.5 L144.8,697.7 L138.4,695.5 Z" fill="#fff" stroke="#000" stroke-width="1.30" />
<path d="M138.4,687.1 L143.7,689.7 L150.6,689.2 M143.7,689.7 L144.8,697.7" fill="none" stroke="#000" stroke-width="1.17" />
<path d="M134.2,702.4 L141.6,700.3 L145.8,702.9 L145.6,710.4 L139.5,712.5 L133.7,710.4 Z" fill="#fff" stroke="#000" stroke-width="1.30" />
<path d="M134.2,702.4 L139.5,704.5 L145.8,702.9 M139.5,704.5 L139.5,712.5" fill="none" stroke="#000" stroke-width="1.17" />
<path d="M145.8,699.8 Q154.3,697.7 157.0,701.9 Q158.0,707.7 152.7,710.9 L145.6,712.5" fill="none" stroke="#000" stroke-width="1.30" />
<path d="M141.6,674.4 L144.8,677.7 L146.0,687.1" fill="none" stroke="#000" stroke-width="3.12" stroke-linecap="round" stroke-linejoin="round"/>
<path d="M141.6,674.4 L144.8,677.7 L146.0,687.1" fill="none" stroke="#fff" stroke-width="1.04" stroke-linecap="round" stroke-linejoin="round"/>
<path d="M126.8,679.7 L139.5,674.9" fill="none" stroke="#000" stroke-width="3.12" stroke-linecap="round" stroke-linejoin="round"/>
<path d="M126.8,679.7 L139.5,674.9" fill="none" stroke="#fff" stroke-width="1.04" stroke-linecap="round" stroke-linejoin="round"/>
<path d="M108.8,675.4 L120.9,674.1 L126.8,677.7 M106.9,681.8 L116.7,687.3 L124.9,694.5 M119.4,661.6 L126.8,660.6 L127.8,672.8 M121.5,666.9 L122.0,672.8" fill="none" stroke="#000" stroke-width="1.30" />
<path d="M102.4,676.5 Q99.2,681.8 101.6,687.3 M104.0,675.9 Q101.1,681.8 103.3,687.3" fill="none" stroke="#000" stroke-width="1.30" />
<path d="M150.1,681.8 L152.7,684.9 L152.2,689.2 M147.9,696.6 L154.3,695.5" fill="none" stroke="#000" stroke-width="1.17" />
<ellipse cx="121.68643439584878" cy="702.7374774965583" rx="8.8" ry="5.0" transform="rotate(35 121.68643439584878 702.7374774965583)" fill="#fff" stroke="#000" stroke-width="1.56"/>
<ellipse cx="122.0041300434184" cy="702.9492745949381" rx="7.0" ry="3.6" transform="rotate(35 122.0041300434184 702.9492745949381)" fill="none" stroke="#000" stroke-width="1.30"/>
<path d="M114.1,699.8 Q117.2,705.1 125.7,707.7" fill="none" stroke="#000" stroke-width="1.17" />
<g transform="translate(156.2,661.3) rotate(36)" fill="#fff" stroke="#000" stroke-width="1.43" stroke-linejoin="round"><ellipse cx="0" cy="0" rx="12.2" ry="4.6"/><ellipse cx="0.73" cy="1.01" rx="10.49" ry="2.67" stroke-width="1.29"/><path d="M6.699999999999999,-2.53 L11.2,-3.45 L14.0,-0.46 L13.799999999999999,3.45 L9.2,4.37 L6.3999999999999995,1.38 Z"/><path d="M6.3999999999999995,1.38 L11.0,0.23 L14.0,-0.46 M11.0,0.23 L9.2,4.37" fill="none" stroke-width="1.22"/><g transform="translate(11.7,4.60) rotate(20)"><path d="M0,-1.3 L3.2,-1.3 L3.2,1.3 L0,1.3 Z" stroke-width="1.22"/><path d="M3,-2.2 L5,-2.2 A0.9,2.2 0 0 1 5,2.2 L3,2.2 Z"/><ellipse cx="3" cy="0" rx="0.9" ry="2.2"/></g></g>
<path d="M150.5,668.2 L147.5,673" fill="none" stroke="#000" stroke-width="1.17" stroke-linejoin="round"/>
<g transform="translate(110.8,714.2) rotate(33)" fill="#fff" stroke="#000" stroke-width="1.43" stroke-linejoin="round"><ellipse cx="0" cy="0" rx="14.2" ry="5.0"/><ellipse cx="0.85" cy="1.10" rx="12.21" ry="2.90" stroke-width="1.29"/><path d="M8.7,-2.75 L13.2,-3.75 L16.0,-0.50 L15.799999999999999,3.75 L11.2,4.75 L8.399999999999999,1.50 Z"/><path d="M8.399999999999999,1.50 L13.0,0.25 L16.0,-0.50 M13.0,0.25 L11.2,4.75" fill="none" stroke-width="1.22"/><g transform="translate(13.7,5.00) rotate(20)"><path d="M0,-1.3 L3.2,-1.3 L3.2,1.3 L0,1.3 Z" stroke-width="1.22"/><path d="M3,-2.2 L5,-2.2 A0.9,2.2 0 0 1 5,2.2 L3,2.2 Z"/><ellipse cx="3" cy="0" rx="0.9" ry="2.2"/></g></g>
<path d="M104,722.5 L101.5,727" fill="none" stroke="#000" stroke-width="1.17" stroke-linejoin="round"/>
<ellipse cx="102.3" cy="725.0" rx="14.3" ry="6.578" transform="rotate(36 102.3 725.0)" fill="#fff" stroke="#000" stroke-width="1.43"/>
<ellipse cx="100.6" cy="727.2" rx="13.0" ry="5.98" transform="rotate(36 100.6 727.2)" fill="#fff" stroke="#000" stroke-width="1.43"/>
<ellipse cx="99.2" cy="729.0" rx="14.2" ry="6.532" transform="rotate(36 99.2 729.0)" fill="#fff" stroke="#000" stroke-width="1.43"/>
<ellipse cx="97.8" cy="730.9" rx="13.0" ry="5.98" transform="rotate(36 97.8 730.9)" fill="#fff" stroke="#000" stroke-width="1.43"/>
<ellipse cx="96.4" cy="732.8" rx="14.0" ry="6.44" transform="rotate(36 96.4 732.8)" fill="#fff" stroke="#000" stroke-width="1.43"/>
<ellipse cx="94.7" cy="734.9" rx="12.8" ry="5.888000000000001" transform="rotate(36 94.7 734.9)" fill="#fff" stroke="#000" stroke-width="1.43"/>
<ellipse cx="93.1" cy="737.1" rx="13.6" ry="6.256" transform="rotate(36 93.1 737.1)" fill="#fff" stroke="#000" stroke-width="1.43"/>
<ellipse cx="91.4" cy="739.3" rx="12.6" ry="5.796" transform="rotate(36 91.4 739.3)" fill="#fff" stroke="#000" stroke-width="1.43"/>
<ellipse cx="90.5" cy="740.5" rx="12.2" ry="5.612" transform="rotate(36 90.5 740.5)" fill="#fff" stroke="#000" stroke-width="1.43"/>
<ellipse cx="91.1" cy="740.1" rx="9.6" ry="4.0" transform="rotate(36 91.1 740.1)" fill="none" stroke="#000" stroke-width="1.30"/>
<ellipse cx="91.7" cy="739.6" rx="7.6" ry="3.0" transform="rotate(36 91.7 739.6)" fill="none" stroke="#000" stroke-width="1.17"/>
<path d="M84,741 L90,737 M93,744 L98,740" fill="none" stroke="#000" stroke-width="1.17" />
<g transform="translate(82.4,756.2) rotate(27)" fill="#fff" stroke="#000" stroke-width="1.43" stroke-linejoin="round"><ellipse cx="0" cy="0" rx="14.2" ry="5.2"/><ellipse cx="0.85" cy="1.14" rx="12.21" ry="3.02" stroke-width="1.29"/><path d="M8.7,-2.86 L13.2,-3.90 L16.0,-0.52 L15.799999999999999,3.90 L11.2,4.94 L8.399999999999999,1.56 Z"/><path d="M8.399999999999999,1.56 L13.0,0.26 L16.0,-0.52 M13.0,0.26 L11.2,4.94" fill="none" stroke-width="1.22"/><g transform="translate(13.7,5.20) rotate(20)"><path d="M0,-1.3 L3.2,-1.3 L3.2,1.3 L0,1.3 Z" stroke-width="1.22"/><path d="M3,-2.2 L5,-2.2 A0.9,2.2 0 0 1 5,2.2 L3,2.2 Z"/><ellipse cx="3" cy="0" rx="0.9" ry="2.2"/></g></g>
<path d="M88,745.2 L86.5,750.5" fill="none" stroke="#000" stroke-width="1.17" stroke-linejoin="round"/>
<path d="M104.0,810.1999999999999 L126.8,797.9 L124.99999999999999,790.4 L141.0,799.6 L127.8,820.1999999999999 L127.3,814.9 L105.3,827.1 Z" fill="#fff" stroke="#000" stroke-width="1.30" stroke-linejoin="round"/>
<path d="M107.2,811.8 L104.0,810.1999999999999" fill="none" stroke="#000" stroke-width="1.30" stroke-linejoin="round"/>
<path d="M130,799.5 L126.8,797.9" fill="none" stroke="#000" stroke-width="1.30" stroke-linejoin="round"/>
<path d="M128.2,792 L124.99999999999999,790.4" fill="none" stroke="#000" stroke-width="1.30" stroke-linejoin="round"/>
<path d="M108.5,828.7 L105.3,827.1" fill="none" stroke="#000" stroke-width="1.30" stroke-linejoin="round"/>
<path d="M107.2,811.8 L130,799.5 L128.2,792 L144.2,801.2 L131,821.8 L130.5,816.5 L108.5,828.7 Z" fill="#fff" stroke="#000" stroke-width="1.56" stroke-linejoin="round"/>
<path d="M104.0,810.1999999999999 L126.8,797.9 L130,799.5" fill="none" stroke="#000" stroke-width="1.30" stroke-linejoin="round"/>
<path d="M104.0,810.1999999999999 L105.3,827.1 L108.5,828.7" fill="#fff" stroke="#000" stroke-width="1.30" stroke-linejoin="round"/>
<text transform="translate(110.6,825.2) skewY(-27) scale(0.6,1)" font-size="17" font-weight="bold">FWD</text>
<path d="M530.0,318.3 Q528.7,324.1 531.2,327.9 Q534.1,331.2 539.1,330.9 L545.8,328.7 L554.1,324.1 Q555.3,319.9 554.1,313.7 L544.9,317.9 L543.3,319.9 Q541.6,318.3 539.1,317.9 L535.0,316.6 Z" fill="#fff" stroke="#000" stroke-width="1.56" />
<path d="M544.9,317.9 L545.4,328.3 M543.3,319.9 Q544.9,322.4 543.3,326.6 L539.1,327.0 Q535.0,326.6 533.3,323.3 Q532.1,319.9 535.0,317.9" fill="none" stroke="#000" stroke-width="1.30" />
<path d="M540.8,324.1 L542.9,322.9 L542.0,326.6 Z" fill="none" stroke="#000" stroke-width="1.82" />
<path d="M525.0,301.2 L530.0,298.7 Q534.1,297.5 539.1,295.4 L544.9,295.4 Q549.1,297.5 551.2,300.8 L551.6,306.2 L552.4,307.1 L551.2,310.0 L543.3,313.7 L540.8,314.5 Q538.7,314.1 538.3,311.6 L535.0,313.3 L530.8,315.0 L526.6,316.6 Z" fill="#fff" stroke="#000" stroke-width="1.56" />
<path d="M539.1,295.4 Q541.6,298.3 542.0,303.3 L542.5,309.1 L543.3,313.7 M542.0,303.3 L551.2,300.8 M542.5,309.1 L552.0,306.8 M542.9,310.4 L551.6,308.3 M543.1,311.8 L551.2,309.8" fill="none" stroke="#000" stroke-width="1.30" />
<path d="M519.6,305.8 Q519.0,302.6 522.5,302.1 Q526.6,301.6 528.7,304.6 Q530.0,306.6 530.0,310.0 L530.0,316.6 Q529.1,321.6 525.8,322.3 Q521.6,322.4 520.0,318.3 Z" fill="#fff" stroke="#000" stroke-width="1.56" />
<path d="M521.6,307.5 Q521.6,305.0 524.1,305.0 Q527.1,305.4 527.5,308.7 L527.5,316.6 Q527.1,319.9 524.6,319.8 Q522.1,319.3 521.8,316.6 Z" fill="none" stroke="#000" stroke-width="1.30" />
<path d="M529.3,305.0 Q530.0,301.6 533.3,301.2 Q537.5,301.2 539.5,305.0 Q540.8,307.5 540.4,311.6 L538.7,314.1 L535.0,315.4 L530.8,316.2 Z" fill="#fff" stroke="#000" stroke-width="1.56" />
<path d="M531.2,306.2 Q531.8,303.7 534.1,304.0 Q537.5,304.3 538.3,307.5 L538.1,311.6 L535.0,312.9 L531.5,313.7 Z" fill="none" stroke="#000" stroke-width="1.30" />
<path d="M522.5,312.5 L540.0,309.1 M522.5,314.1 L530.8,312.5" fill="none" stroke="#000" stroke-width="1.17" />
</svg></body></html>
